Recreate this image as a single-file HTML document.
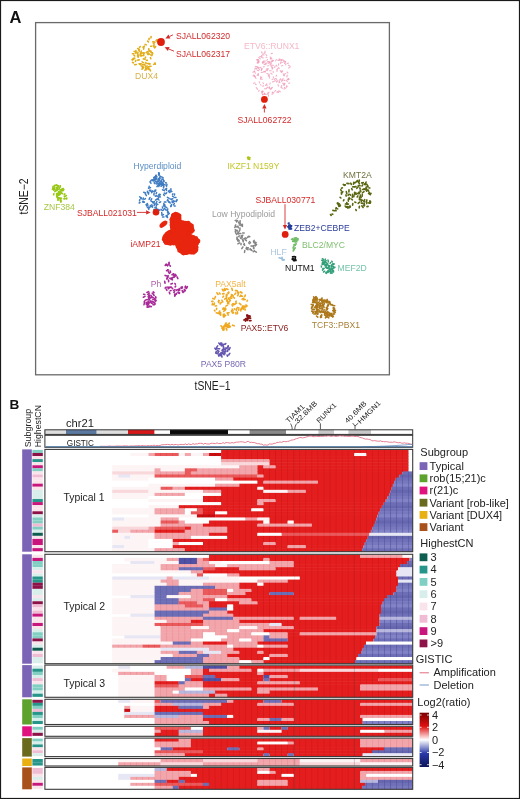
<!DOCTYPE html>
<html><head><meta charset="utf-8"><style>
html,body{margin:0;padding:0;background:#fff;}
body{width:520px;height:799px;overflow:hidden;position:relative;}
svg{position:absolute;left:0;top:0;filter:blur(0.3px);}
svg text{font-family:"Liberation Sans", sans-serif;}
</style></head><body>
<svg width="520" height="799" viewBox="0 0 520 799">
<rect x="0" y="0" width="520" height="799" fill="#fff"/>
<text x="9.5" y="23" font-size="16.5" fill="#111" text-anchor="start" font-weight="bold" >A</text>
<rect x="35.6" y="22.6" width="353.8" height="352.2" fill="none" stroke="#6a6a6a" stroke-width="1.3"/>
<text x="212.5" y="389.6" font-size="12" fill="#222" text-anchor="middle" font-weight="normal" textLength="36" lengthAdjust="spacingAndGlyphs">tSNE−1</text>
<text x="0" y="0" font-size="12" fill="#222" text-anchor="middle" transform="translate(28.2,196.5) rotate(-90)" textLength="36" lengthAdjust="spacingAndGlyphs">tSNE−2</text>
<g stroke="#e2ae1c" stroke-width="1.60" stroke-linecap="round" stroke-opacity="1.0"><line x1="149.1" y1="38.3" x2="149.0" y2="39.6"/><line x1="132.4" y1="53.7" x2="133.8" y2="53.8"/><line x1="142.4" y1="64.4" x2="143.5" y2="64.8"/><line x1="148.6" y1="68.1" x2="148.3" y2="69.4"/><line x1="154.2" y1="46.1" x2="155.1" y2="46.6"/><line x1="139.1" y1="63.8" x2="140.5" y2="64.7"/><line x1="148.8" y1="48.7" x2="148.7" y2="49.6"/><line x1="149.4" y1="50.4" x2="150.3" y2="51.7"/><line x1="144.4" y1="46.2" x2="143.0" y2="47.2"/><line x1="138.2" y1="55.0" x2="138.0" y2="57.0"/><line x1="151.7" y1="46.3" x2="150.7" y2="46.3"/><line x1="142.1" y1="61.9" x2="143.4" y2="62.6"/><line x1="133.2" y1="58.7" x2="132.0" y2="59.8"/><line x1="155.6" y1="46.5" x2="154.7" y2="47.8"/><line x1="148.1" y1="51.5" x2="146.2" y2="52.5"/><line x1="143.4" y1="58.9" x2="145.2" y2="59.2"/><line x1="153.4" y1="45.4" x2="154.0" y2="47.0"/><line x1="132.6" y1="62.4" x2="133.6" y2="62.8"/><line x1="141.4" y1="65.9" x2="142.7" y2="66.3"/><line x1="147.2" y1="66.0" x2="145.5" y2="67.1"/><line x1="138.6" y1="49.7" x2="139.5" y2="51.5"/><line x1="156.9" y1="41.3" x2="157.8" y2="41.9"/><line x1="138.0" y1="52.4" x2="137.6" y2="53.5"/><line x1="142.3" y1="55.6" x2="140.6" y2="55.9"/><line x1="145.6" y1="57.1" x2="145.2" y2="57.9"/><line x1="154.9" y1="63.0" x2="155.3" y2="64.3"/><line x1="133.9" y1="58.0" x2="134.7" y2="58.2"/><line x1="147.6" y1="41.1" x2="148.5" y2="42.0"/><line x1="143.6" y1="52.8" x2="144.5" y2="53.1"/><line x1="152.8" y1="41.9" x2="154.9" y2="42.1"/><line x1="146.6" y1="69.4" x2="145.0" y2="70.1"/><line x1="137.7" y1="48.5" x2="139.4" y2="49.4"/><line x1="145.6" y1="62.5" x2="146.2" y2="63.5"/><line x1="155.3" y1="63.4" x2="153.7" y2="64.4"/><line x1="137.4" y1="53.7" x2="137.8" y2="54.5"/><line x1="139.2" y1="59.9" x2="137.8" y2="60.1"/><line x1="149.0" y1="66.8" x2="147.7" y2="67.5"/><line x1="148.3" y1="63.5" x2="150.0" y2="63.9"/><line x1="150.9" y1="52.2" x2="152.6" y2="53.3"/><line x1="141.2" y1="63.7" x2="139.8" y2="63.8"/><line x1="142.7" y1="68.3" x2="142.0" y2="69.1"/><line x1="136.3" y1="64.5" x2="134.6" y2="64.7"/><line x1="140.6" y1="55.0" x2="141.3" y2="55.3"/><line x1="145.5" y1="67.3" x2="145.9" y2="69.2"/><line x1="153.4" y1="43.2" x2="154.2" y2="44.1"/><line x1="137.5" y1="55.9" x2="138.5" y2="56.9"/><line x1="141.3" y1="51.1" x2="140.8" y2="53.1"/><line x1="142.9" y1="66.9" x2="142.9" y2="68.5"/><line x1="136.7" y1="52.0" x2="135.6" y2="53.2"/><line x1="140.5" y1="53.2" x2="140.1" y2="55.1"/><line x1="133.9" y1="55.1" x2="134.8" y2="56.0"/><line x1="152.5" y1="52.8" x2="152.2" y2="54.7"/><line x1="148.1" y1="52.8" x2="148.0" y2="54.6"/><line x1="143.6" y1="53.6" x2="143.8" y2="55.7"/><line x1="151.0" y1="66.2" x2="149.8" y2="66.4"/><line x1="147.0" y1="68.3" x2="146.2" y2="68.8"/><line x1="134.2" y1="51.4" x2="135.3" y2="51.7"/><line x1="134.3" y1="58.6" x2="132.7" y2="59.9"/><line x1="135.9" y1="60.4" x2="135.4" y2="61.3"/><line x1="143.2" y1="53.0" x2="141.3" y2="53.1"/><line x1="135.9" y1="50.5" x2="135.8" y2="51.8"/><line x1="151.1" y1="36.5" x2="150.9" y2="37.9"/><line x1="147.3" y1="53.7" x2="149.4" y2="54.1"/><line x1="143.4" y1="67.2" x2="142.4" y2="67.8"/><line x1="146.5" y1="60.2" x2="147.3" y2="60.4"/><line x1="149.1" y1="50.7" x2="151.1" y2="51.2"/><line x1="147.7" y1="63.5" x2="149.6" y2="64.0"/><line x1="143.9" y1="47.0" x2="143.6" y2="49.1"/><line x1="145.2" y1="44.4" x2="146.2" y2="44.8"/><line x1="140.4" y1="46.5" x2="139.5" y2="47.3"/><line x1="150.7" y1="54.8" x2="151.9" y2="55.6"/><line x1="157.3" y1="39.7" x2="156.1" y2="40.5"/><line x1="144.6" y1="64.2" x2="145.1" y2="65.6"/><line x1="149.6" y1="69.0" x2="150.5" y2="70.8"/><line x1="150.4" y1="57.5" x2="150.8" y2="58.7"/></g>
<g stroke="#f09cb6" stroke-width="1.10" stroke-linecap="round" stroke-opacity="0.8"><line x1="255.4" y1="84.0" x2="256.1" y2="84.7"/><line x1="286.6" y1="80.7" x2="287.3" y2="81.6"/><line x1="263.8" y1="71.3" x2="265.1" y2="72.0"/><line x1="264.0" y1="94.2" x2="262.5" y2="94.3"/><line x1="262.2" y1="93.9" x2="262.9" y2="95.0"/><line x1="270.9" y1="73.2" x2="272.1" y2="74.1"/><line x1="256.1" y1="68.9" x2="256.9" y2="69.0"/><line x1="265.1" y1="60.7" x2="264.7" y2="62.2"/><line x1="282.9" y1="79.8" x2="281.6" y2="81.4"/><line x1="268.7" y1="65.7" x2="267.7" y2="65.7"/><line x1="280.3" y1="79.8" x2="282.2" y2="80.1"/><line x1="288.4" y1="78.5" x2="287.1" y2="79.9"/><line x1="258.4" y1="73.6" x2="258.4" y2="75.6"/><line x1="284.6" y1="87.2" x2="284.1" y2="89.2"/><line x1="279.3" y1="81.9" x2="279.9" y2="82.5"/><line x1="257.3" y1="66.9" x2="259.1" y2="67.6"/><line x1="275.1" y1="78.4" x2="274.4" y2="80.1"/><line x1="284.1" y1="83.9" x2="284.1" y2="85.4"/><line x1="281.2" y1="62.2" x2="282.3" y2="62.5"/><line x1="282.2" y1="59.4" x2="280.7" y2="61.0"/><line x1="272.2" y1="67.3" x2="272.3" y2="69.1"/><line x1="283.1" y1="78.4" x2="282.7" y2="79.2"/><line x1="259.2" y1="62.0" x2="258.3" y2="62.9"/><line x1="279.5" y1="81.6" x2="278.9" y2="82.7"/><line x1="273.1" y1="71.4" x2="273.2" y2="72.4"/><line x1="254.6" y1="71.1" x2="252.8" y2="72.2"/><line x1="269.7" y1="62.4" x2="271.4" y2="63.7"/><line x1="260.5" y1="76.8" x2="261.9" y2="77.5"/><line x1="285.8" y1="73.6" x2="284.2" y2="74.2"/><line x1="262.0" y1="91.0" x2="262.0" y2="91.8"/><line x1="270.0" y1="64.3" x2="271.2" y2="64.9"/><line x1="264.4" y1="88.8" x2="266.3" y2="88.8"/><line x1="289.7" y1="82.9" x2="288.6" y2="83.3"/><line x1="268.3" y1="68.7" x2="266.7" y2="68.7"/><line x1="266.8" y1="69.9" x2="267.3" y2="70.6"/><line x1="256.3" y1="87.7" x2="257.6" y2="89.4"/><line x1="262.7" y1="62.4" x2="262.7" y2="63.5"/><line x1="268.5" y1="93.7" x2="266.7" y2="94.4"/><line x1="278.4" y1="92.0" x2="276.8" y2="92.2"/><line x1="282.2" y1="70.7" x2="281.0" y2="71.9"/><line x1="264.6" y1="53.1" x2="263.7" y2="53.3"/><line x1="270.9" y1="65.7" x2="272.0" y2="67.2"/><line x1="278.7" y1="63.9" x2="278.5" y2="65.2"/><line x1="258.7" y1="57.6" x2="260.3" y2="58.9"/><line x1="273.4" y1="60.6" x2="271.3" y2="61.2"/><line x1="270.2" y1="57.0" x2="270.9" y2="57.5"/><line x1="265.9" y1="54.7" x2="266.8" y2="55.5"/><line x1="275.7" y1="90.4" x2="274.7" y2="91.4"/><line x1="268.9" y1="74.0" x2="269.4" y2="75.2"/><line x1="273.1" y1="79.1" x2="272.1" y2="79.6"/><line x1="263.3" y1="61.5" x2="263.8" y2="62.9"/><line x1="254.9" y1="82.7" x2="253.6" y2="83.2"/><line x1="269.1" y1="92.2" x2="267.4" y2="93.2"/><line x1="274.3" y1="81.5" x2="272.5" y2="81.9"/><line x1="278.1" y1="84.6" x2="278.4" y2="86.2"/><line x1="262.3" y1="91.8" x2="261.8" y2="92.9"/><line x1="258.4" y1="61.5" x2="257.6" y2="63.1"/><line x1="273.3" y1="76.7" x2="273.6" y2="77.8"/><line x1="265.6" y1="71.6" x2="263.9" y2="71.8"/><line x1="287.0" y1="72.0" x2="287.9" y2="72.8"/><line x1="265.0" y1="51.1" x2="265.0" y2="52.9"/><line x1="269.9" y1="61.7" x2="268.9" y2="63.5"/><line x1="261.5" y1="51.9" x2="262.2" y2="53.1"/><line x1="280.4" y1="59.4" x2="278.9" y2="60.5"/><line x1="273.3" y1="60.2" x2="272.1" y2="60.3"/><line x1="284.3" y1="60.8" x2="285.7" y2="62.0"/><line x1="264.5" y1="93.3" x2="264.5" y2="94.4"/><line x1="262.2" y1="68.8" x2="261.2" y2="70.7"/><line x1="257.9" y1="68.0" x2="259.6" y2="69.4"/><line x1="256.3" y1="68.4" x2="254.4" y2="69.0"/><line x1="288.5" y1="65.2" x2="290.2" y2="66.4"/><line x1="278.7" y1="67.5" x2="279.2" y2="68.6"/><line x1="264.4" y1="66.7" x2="263.4" y2="66.9"/><line x1="267.5" y1="87.6" x2="266.3" y2="88.3"/><line x1="254.5" y1="71.3" x2="255.3" y2="73.3"/><line x1="260.9" y1="67.3" x2="260.1" y2="67.5"/><line x1="269.3" y1="87.2" x2="268.7" y2="87.8"/><line x1="267.0" y1="63.1" x2="265.4" y2="63.4"/><line x1="262.9" y1="82.8" x2="263.5" y2="83.7"/><line x1="289.2" y1="79.5" x2="288.3" y2="79.6"/><line x1="263.2" y1="72.2" x2="261.1" y2="72.5"/><line x1="267.9" y1="61.6" x2="268.2" y2="63.0"/><line x1="285.1" y1="83.7" x2="283.5" y2="84.7"/><line x1="276.3" y1="65.2" x2="277.0" y2="66.3"/><line x1="260.4" y1="84.6" x2="261.0" y2="85.2"/><line x1="253.8" y1="74.9" x2="254.9" y2="76.8"/><line x1="262.6" y1="54.6" x2="264.0" y2="55.0"/><line x1="280.2" y1="70.6" x2="281.2" y2="71.6"/><line x1="277.9" y1="80.6" x2="276.5" y2="82.0"/><line x1="285.9" y1="63.6" x2="285.7" y2="64.9"/><line x1="281.4" y1="59.6" x2="282.2" y2="60.4"/><line x1="259.1" y1="90.2" x2="258.8" y2="91.4"/><line x1="268.5" y1="95.1" x2="268.4" y2="96.2"/><line x1="285.0" y1="80.4" x2="284.1" y2="80.4"/><line x1="272.4" y1="87.4" x2="270.6" y2="88.4"/><line x1="258.5" y1="59.5" x2="256.8" y2="59.6"/><line x1="289.9" y1="67.5" x2="288.6" y2="68.0"/><line x1="263.6" y1="85.9" x2="262.7" y2="86.1"/><line x1="275.7" y1="78.5" x2="276.8" y2="79.3"/><line x1="257.9" y1="59.6" x2="259.1" y2="60.8"/><line x1="277.8" y1="60.1" x2="279.0" y2="60.2"/><line x1="279.2" y1="58.9" x2="279.8" y2="59.8"/><line x1="283.6" y1="75.6" x2="284.5" y2="75.8"/><line x1="268.6" y1="75.3" x2="268.2" y2="76.2"/><line x1="259.2" y1="81.7" x2="259.6" y2="82.9"/><line x1="264.6" y1="93.2" x2="265.4" y2="94.6"/><line x1="267.9" y1="69.3" x2="265.9" y2="70.2"/><line x1="267.5" y1="59.5" x2="266.8" y2="60.3"/><line x1="269.2" y1="86.9" x2="269.8" y2="88.9"/><line x1="270.2" y1="58.3" x2="271.8" y2="58.4"/><line x1="277.2" y1="91.7" x2="278.8" y2="92.2"/><line x1="266.9" y1="73.4" x2="268.0" y2="74.0"/><line x1="272.6" y1="92.4" x2="274.0" y2="92.9"/><line x1="261.8" y1="56.5" x2="259.6" y2="56.9"/><line x1="272.5" y1="53.2" x2="271.2" y2="53.6"/><line x1="288.7" y1="78.6" x2="287.8" y2="79.2"/><line x1="283.4" y1="60.0" x2="283.9" y2="61.9"/><line x1="261.5" y1="68.3" x2="261.5" y2="69.7"/><line x1="258.5" y1="61.3" x2="257.1" y2="62.9"/><line x1="254.9" y1="76.0" x2="254.3" y2="76.6"/><line x1="276.6" y1="75.2" x2="276.1" y2="76.3"/><line x1="269.2" y1="76.4" x2="269.6" y2="78.1"/><line x1="269.6" y1="70.7" x2="271.3" y2="70.8"/><line x1="272.8" y1="60.9" x2="271.4" y2="62.2"/><line x1="270.8" y1="58.6" x2="270.9" y2="59.6"/><line x1="257.3" y1="70.2" x2="258.7" y2="70.6"/><line x1="281.6" y1="85.6" x2="281.6" y2="86.4"/><line x1="273.1" y1="67.9" x2="272.2" y2="68.1"/><line x1="280.7" y1="87.1" x2="282.4" y2="88.3"/><line x1="272.7" y1="93.9" x2="271.7" y2="94.2"/><line x1="255.9" y1="66.4" x2="255.2" y2="67.1"/><line x1="288.4" y1="63.1" x2="287.5" y2="63.6"/><line x1="272.1" y1="92.0" x2="273.0" y2="92.8"/><line x1="272.2" y1="65.3" x2="273.3" y2="65.4"/><line x1="278.7" y1="90.8" x2="280.3" y2="91.8"/><line x1="257.8" y1="74.3" x2="257.2" y2="75.5"/><line x1="287.3" y1="75.0" x2="286.8" y2="77.0"/><line x1="278.0" y1="68.4" x2="277.1" y2="69.1"/><line x1="267.0" y1="84.9" x2="267.1" y2="85.9"/><line x1="285.4" y1="61.4" x2="284.5" y2="63.4"/><line x1="275.6" y1="80.5" x2="276.1" y2="81.2"/><line x1="277.1" y1="69.4" x2="277.0" y2="71.5"/><line x1="258.3" y1="60.9" x2="258.0" y2="61.6"/><line x1="256.5" y1="66.5" x2="257.8" y2="67.6"/><line x1="276.3" y1="59.5" x2="275.7" y2="60.9"/><line x1="261.7" y1="57.5" x2="263.3" y2="58.0"/><line x1="286.8" y1="85.6" x2="287.2" y2="86.8"/><line x1="275.2" y1="66.1" x2="274.6" y2="67.4"/><line x1="261.9" y1="91.6" x2="263.5" y2="91.8"/><line x1="267.9" y1="61.5" x2="269.8" y2="61.9"/><line x1="254.0" y1="75.7" x2="253.0" y2="75.9"/><line x1="260.8" y1="77.5" x2="260.8" y2="79.2"/><line x1="264.1" y1="64.4" x2="266.1" y2="64.7"/><line x1="282.5" y1="83.2" x2="284.5" y2="83.2"/><line x1="282.6" y1="71.4" x2="281.6" y2="72.5"/><line x1="261.5" y1="55.5" x2="262.1" y2="56.0"/><line x1="266.7" y1="83.9" x2="265.5" y2="85.5"/><line x1="280.9" y1="62.3" x2="280.6" y2="63.7"/><line x1="283.2" y1="73.9" x2="284.3" y2="75.2"/><line x1="263.9" y1="60.9" x2="262.4" y2="62.4"/><line x1="282.7" y1="65.5" x2="281.5" y2="65.9"/><line x1="262.7" y1="91.0" x2="262.0" y2="92.7"/><line x1="271.9" y1="88.0" x2="270.7" y2="89.6"/><line x1="270.2" y1="83.0" x2="269.9" y2="84.2"/><line x1="260.3" y1="78.8" x2="262.3" y2="79.3"/><line x1="266.0" y1="57.3" x2="266.9" y2="57.4"/><line x1="280.5" y1="78.8" x2="279.5" y2="80.3"/><line x1="255.2" y1="76.7" x2="256.0" y2="78.5"/><line x1="256.8" y1="60.1" x2="257.6" y2="60.4"/><line x1="286.5" y1="86.6" x2="285.7" y2="88.4"/></g>
<g stroke="#3f7cc2" stroke-width="1.50" stroke-linecap="round" stroke-opacity="1.0"><line x1="164.4" y1="184.6" x2="165.3" y2="184.9"/><line x1="151.5" y1="191.4" x2="152.7" y2="191.5"/><line x1="150.3" y1="205.4" x2="150.8" y2="206.5"/><line x1="173.2" y1="201.0" x2="174.6" y2="201.2"/><line x1="156.5" y1="208.0" x2="157.3" y2="209.6"/><line x1="161.5" y1="181.0" x2="160.6" y2="181.4"/><line x1="158.5" y1="209.5" x2="159.8" y2="210.3"/><line x1="151.1" y1="180.5" x2="150.2" y2="181.7"/><line x1="142.6" y1="201.8" x2="144.4" y2="202.2"/><line x1="167.8" y1="208.9" x2="167.3" y2="210.1"/><line x1="155.9" y1="189.9" x2="155.0" y2="190.2"/><line x1="148.7" y1="192.4" x2="148.5" y2="194.2"/><line x1="169.6" y1="201.9" x2="170.2" y2="203.1"/><line x1="165.5" y1="206.9" x2="166.8" y2="207.6"/><line x1="170.0" y1="198.9" x2="171.4" y2="199.4"/><line x1="167.4" y1="212.0" x2="168.3" y2="212.5"/><line x1="149.2" y1="186.2" x2="149.1" y2="187.2"/><line x1="153.4" y1="179.8" x2="151.5" y2="179.9"/><line x1="168.4" y1="191.5" x2="169.8" y2="192.5"/><line x1="155.8" y1="209.0" x2="154.9" y2="210.3"/><line x1="164.2" y1="193.1" x2="165.7" y2="193.8"/><line x1="156.3" y1="207.0" x2="154.9" y2="207.4"/><line x1="162.4" y1="207.0" x2="162.7" y2="208.1"/><line x1="169.3" y1="213.5" x2="167.9" y2="214.6"/><line x1="174.3" y1="203.5" x2="173.6" y2="204.8"/><line x1="151.2" y1="201.4" x2="152.5" y2="201.8"/><line x1="171.3" y1="205.3" x2="170.8" y2="206.3"/><line x1="156.6" y1="192.4" x2="156.1" y2="193.7"/><line x1="166.0" y1="216.1" x2="167.4" y2="217.0"/><line x1="170.9" y1="188.7" x2="170.9" y2="190.8"/><line x1="139.7" y1="196.9" x2="141.4" y2="197.9"/><line x1="143.3" y1="198.0" x2="143.0" y2="199.8"/><line x1="160.7" y1="201.8" x2="159.3" y2="202.5"/><line x1="147.3" y1="203.5" x2="147.9" y2="205.3"/><line x1="149.6" y1="190.3" x2="150.9" y2="190.3"/><line x1="156.0" y1="204.5" x2="156.5" y2="205.6"/><line x1="149.0" y1="207.1" x2="147.4" y2="207.3"/><line x1="154.2" y1="180.6" x2="155.9" y2="181.4"/><line x1="172.1" y1="201.1" x2="172.3" y2="202.7"/><line x1="154.3" y1="201.6" x2="152.7" y2="202.6"/><line x1="158.3" y1="184.6" x2="158.1" y2="185.6"/><line x1="154.3" y1="182.5" x2="154.5" y2="183.6"/><line x1="150.1" y1="182.0" x2="151.0" y2="183.2"/><line x1="156.9" y1="201.5" x2="156.3" y2="202.6"/><line x1="165.4" y1="182.7" x2="166.4" y2="183.0"/><line x1="148.3" y1="208.5" x2="148.8" y2="209.4"/><line x1="164.5" y1="208.3" x2="163.4" y2="210.1"/><line x1="147.2" y1="203.9" x2="147.0" y2="205.7"/><line x1="161.4" y1="183.3" x2="162.1" y2="183.9"/><line x1="159.2" y1="172.9" x2="159.3" y2="173.9"/><line x1="159.3" y1="194.2" x2="159.0" y2="196.2"/><line x1="158.7" y1="197.5" x2="157.7" y2="199.2"/><line x1="154.8" y1="191.2" x2="153.9" y2="191.3"/><line x1="164.3" y1="201.9" x2="165.9" y2="202.1"/><line x1="166.4" y1="215.7" x2="167.5" y2="217.5"/><line x1="160.3" y1="194.4" x2="159.5" y2="194.6"/><line x1="168.0" y1="200.6" x2="168.9" y2="202.3"/><line x1="154.1" y1="193.1" x2="153.9" y2="194.9"/><line x1="147.4" y1="191.3" x2="147.8" y2="192.8"/><line x1="159.7" y1="182.9" x2="159.6" y2="185.0"/><line x1="165.5" y1="209.2" x2="166.2" y2="210.2"/><line x1="151.7" y1="198.7" x2="150.9" y2="200.4"/><line x1="174.7" y1="197.4" x2="175.9" y2="197.6"/><line x1="177.2" y1="199.8" x2="176.3" y2="201.5"/><line x1="176.6" y1="200.0" x2="176.0" y2="201.6"/><line x1="167.8" y1="199.6" x2="167.3" y2="200.5"/><line x1="166.7" y1="192.8" x2="166.0" y2="193.5"/><line x1="166.7" y1="188.3" x2="165.1" y2="189.3"/><line x1="161.6" y1="182.7" x2="162.5" y2="183.8"/><line x1="152.5" y1="190.9" x2="151.6" y2="192.8"/><line x1="140.8" y1="198.5" x2="141.7" y2="198.7"/><line x1="172.9" y1="198.8" x2="171.5" y2="199.2"/><line x1="164.0" y1="216.9" x2="162.5" y2="217.0"/><line x1="156.1" y1="175.1" x2="155.7" y2="176.0"/><line x1="168.6" y1="212.5" x2="168.0" y2="213.2"/><line x1="164.6" y1="204.6" x2="164.9" y2="206.7"/><line x1="140.0" y1="202.5" x2="139.2" y2="203.0"/><line x1="150.9" y1="206.1" x2="152.6" y2="207.1"/><line x1="158.6" y1="172.7" x2="159.3" y2="174.2"/><line x1="156.1" y1="203.6" x2="157.8" y2="204.4"/><line x1="154.2" y1="201.8" x2="153.6" y2="203.1"/><line x1="155.8" y1="209.3" x2="153.9" y2="209.6"/><line x1="161.2" y1="184.8" x2="163.3" y2="185.2"/><line x1="167.4" y1="210.7" x2="168.2" y2="212.2"/><line x1="163.4" y1="184.8" x2="163.9" y2="186.8"/><line x1="154.8" y1="203.4" x2="154.1" y2="205.4"/><line x1="157.2" y1="199.0" x2="155.5" y2="200.1"/><line x1="163.3" y1="183.6" x2="161.6" y2="184.5"/><line x1="166.9" y1="215.3" x2="167.3" y2="216.1"/><line x1="161.0" y1="209.4" x2="162.4" y2="210.5"/><line x1="163.8" y1="203.5" x2="163.9" y2="204.6"/><line x1="150.0" y1="207.2" x2="148.9" y2="208.1"/><line x1="163.5" y1="214.6" x2="162.0" y2="215.2"/><line x1="158.1" y1="199.4" x2="159.0" y2="200.0"/><line x1="146.1" y1="204.5" x2="146.7" y2="205.9"/><line x1="155.1" y1="195.9" x2="155.9" y2="196.3"/><line x1="143.8" y1="201.5" x2="143.0" y2="202.1"/><line x1="163.5" y1="187.2" x2="163.5" y2="188.0"/><line x1="174.6" y1="194.0" x2="174.4" y2="195.1"/><line x1="171.9" y1="191.4" x2="170.0" y2="191.7"/><line x1="161.7" y1="212.5" x2="162.0" y2="214.7"/><line x1="162.5" y1="189.8" x2="164.5" y2="190.6"/><line x1="150.0" y1="197.5" x2="149.1" y2="199.4"/><line x1="166.4" y1="189.5" x2="166.5" y2="190.5"/><line x1="150.5" y1="187.6" x2="148.5" y2="188.2"/><line x1="171.7" y1="204.6" x2="170.8" y2="206.6"/><line x1="167.0" y1="184.4" x2="166.5" y2="186.2"/><line x1="158.4" y1="178.5" x2="159.1" y2="179.2"/><line x1="143.7" y1="192.3" x2="145.7" y2="193.0"/><line x1="173.4" y1="201.0" x2="173.6" y2="202.2"/><line x1="172.9" y1="193.7" x2="172.5" y2="194.6"/><line x1="167.4" y1="197.4" x2="169.2" y2="198.3"/><line x1="149.4" y1="190.6" x2="150.4" y2="191.2"/><line x1="145.3" y1="193.9" x2="146.4" y2="195.7"/><line x1="158.2" y1="184.3" x2="158.9" y2="185.1"/><line x1="172.5" y1="196.2" x2="173.7" y2="197.0"/><line x1="161.6" y1="176.8" x2="163.2" y2="177.8"/><line x1="163.6" y1="194.6" x2="164.3" y2="195.4"/><line x1="164.8" y1="205.1" x2="163.4" y2="206.0"/><line x1="169.3" y1="190.4" x2="168.8" y2="191.0"/><line x1="153.7" y1="177.8" x2="154.4" y2="179.3"/><line x1="156.4" y1="195.7" x2="158.1" y2="196.4"/><line x1="151.8" y1="204.8" x2="152.5" y2="206.6"/><line x1="160.1" y1="196.3" x2="160.0" y2="197.2"/><line x1="139.9" y1="199.4" x2="139.5" y2="200.9"/><line x1="174.2" y1="205.9" x2="175.1" y2="206.1"/><line x1="158.9" y1="194.9" x2="159.5" y2="195.7"/><line x1="155.9" y1="176.3" x2="155.3" y2="178.2"/><line x1="145.4" y1="198.5" x2="144.7" y2="199.2"/><line x1="155.6" y1="190.9" x2="154.3" y2="191.7"/></g>
<g stroke="#3f7cc2" stroke-width="1.50" stroke-linecap="round" stroke-opacity="1.0"><line x1="157.8" y1="185.8" x2="156.9" y2="186.6"/><line x1="155.4" y1="176.6" x2="155.9" y2="178.8"/><line x1="162.7" y1="185.2" x2="161.0" y2="186.3"/><line x1="154.6" y1="180.1" x2="152.5" y2="180.4"/><line x1="156.0" y1="178.3" x2="155.5" y2="179.5"/><line x1="158.7" y1="173.2" x2="159.0" y2="174.7"/><line x1="164.1" y1="181.3" x2="162.5" y2="182.4"/><line x1="160.4" y1="176.2" x2="159.7" y2="177.2"/><line x1="159.2" y1="185.4" x2="158.8" y2="186.5"/><line x1="159.3" y1="179.0" x2="158.1" y2="179.2"/><line x1="155.6" y1="181.8" x2="157.1" y2="182.4"/><line x1="163.0" y1="179.7" x2="164.0" y2="180.7"/><line x1="158.4" y1="174.9" x2="159.3" y2="175.3"/><line x1="155.9" y1="178.2" x2="156.6" y2="179.1"/><line x1="154.7" y1="180.2" x2="153.2" y2="181.0"/><line x1="158.5" y1="181.6" x2="160.0" y2="182.6"/><line x1="158.3" y1="180.0" x2="157.8" y2="181.4"/><line x1="155.8" y1="175.9" x2="157.0" y2="176.9"/><line x1="156.6" y1="181.2" x2="157.9" y2="181.2"/><line x1="158.4" y1="179.0" x2="159.8" y2="180.7"/><line x1="155.9" y1="183.6" x2="156.6" y2="184.0"/><line x1="161.9" y1="179.0" x2="163.2" y2="179.3"/><line x1="157.3" y1="183.1" x2="158.4" y2="183.5"/><line x1="154.3" y1="176.9" x2="155.1" y2="178.5"/><line x1="160.4" y1="184.5" x2="159.1" y2="185.3"/><line x1="161.7" y1="182.9" x2="160.6" y2="183.9"/><line x1="162.1" y1="182.8" x2="161.2" y2="183.0"/><line x1="161.4" y1="180.1" x2="161.4" y2="182.3"/><line x1="160.1" y1="178.2" x2="158.5" y2="179.5"/><line x1="159.6" y1="177.6" x2="159.8" y2="179.0"/></g>
<g stroke="#98c818" stroke-width="1.70" stroke-linecap="round" stroke-opacity="1.0"><line x1="62.4" y1="188.7" x2="63.0" y2="190.2"/><line x1="58.2" y1="189.4" x2="56.7" y2="190.6"/><line x1="58.7" y1="191.7" x2="59.8" y2="192.4"/><line x1="53.9" y1="193.8" x2="53.6" y2="194.7"/><line x1="65.1" y1="198.7" x2="64.0" y2="198.8"/><line x1="57.7" y1="200.0" x2="58.5" y2="200.0"/><line x1="61.2" y1="192.7" x2="59.3" y2="193.2"/><line x1="59.9" y1="192.7" x2="59.2" y2="193.9"/><line x1="56.6" y1="193.7" x2="57.5" y2="195.6"/><line x1="61.4" y1="193.2" x2="62.6" y2="193.6"/><line x1="57.9" y1="193.1" x2="57.5" y2="195.0"/><line x1="59.0" y1="195.1" x2="57.7" y2="195.1"/><line x1="59.2" y1="198.1" x2="60.3" y2="198.7"/><line x1="66.7" y1="198.1" x2="66.6" y2="199.0"/><line x1="66.3" y1="195.6" x2="64.4" y2="196.8"/><line x1="54.0" y1="188.7" x2="53.9" y2="190.2"/><line x1="54.7" y1="186.8" x2="54.1" y2="188.4"/><line x1="57.4" y1="197.2" x2="58.4" y2="198.6"/><line x1="64.8" y1="194.0" x2="64.3" y2="194.9"/><line x1="58.6" y1="193.3" x2="59.8" y2="194.5"/><line x1="59.9" y1="191.3" x2="60.9" y2="191.7"/><line x1="53.1" y1="186.4" x2="53.0" y2="188.4"/><line x1="60.6" y1="198.1" x2="61.4" y2="198.3"/><line x1="63.8" y1="189.5" x2="63.0" y2="190.5"/><line x1="53.1" y1="188.7" x2="55.1" y2="189.3"/><line x1="60.4" y1="189.8" x2="60.6" y2="191.1"/><line x1="60.4" y1="200.0" x2="60.7" y2="201.6"/><line x1="56.3" y1="185.0" x2="54.4" y2="185.5"/><line x1="60.8" y1="199.8" x2="60.9" y2="201.9"/><line x1="55.6" y1="190.7" x2="54.9" y2="191.6"/><line x1="58.6" y1="197.6" x2="59.4" y2="198.3"/><line x1="57.7" y1="187.6" x2="56.5" y2="187.7"/><line x1="60.3" y1="185.8" x2="60.1" y2="187.1"/><line x1="56.8" y1="185.2" x2="58.7" y2="186.0"/><line x1="56.5" y1="188.3" x2="57.4" y2="189.0"/><line x1="61.0" y1="189.9" x2="62.6" y2="190.7"/><line x1="53.4" y1="188.8" x2="52.5" y2="189.3"/><line x1="58.8" y1="198.4" x2="58.0" y2="199.0"/><line x1="56.6" y1="195.8" x2="57.4" y2="197.8"/><line x1="59.3" y1="187.9" x2="59.4" y2="188.8"/><line x1="63.2" y1="188.7" x2="61.7" y2="189.2"/><line x1="57.4" y1="188.2" x2="57.0" y2="189.2"/><line x1="58.8" y1="193.0" x2="60.1" y2="194.4"/><line x1="57.6" y1="195.1" x2="57.3" y2="196.3"/><line x1="56.7" y1="185.4" x2="58.4" y2="186.5"/></g>
<g stroke="#b0c418" stroke-width="1.60" stroke-linecap="round" stroke-opacity="1.0"><line x1="248.2" y1="158.9" x2="249.7" y2="159.4"/><line x1="248.8" y1="158.1" x2="249.4" y2="158.9"/><line x1="248.1" y1="157.1" x2="249.8" y2="157.8"/><line x1="249.8" y1="157.8" x2="247.9" y2="158.4"/><line x1="247.5" y1="157.5" x2="249.3" y2="157.7"/></g>
<g stroke="#858585" stroke-width="1.50" stroke-linecap="round" stroke-opacity="1.0"><line x1="244.3" y1="243.6" x2="243.7" y2="244.5"/><line x1="251.0" y1="246.0" x2="251.8" y2="246.1"/><line x1="237.8" y1="226.7" x2="238.6" y2="227.8"/><line x1="235.6" y1="230.9" x2="235.2" y2="231.8"/><line x1="254.2" y1="240.4" x2="253.4" y2="241.3"/><line x1="244.3" y1="244.6" x2="244.7" y2="245.3"/><line x1="253.4" y1="248.0" x2="254.0" y2="248.7"/><line x1="253.6" y1="242.1" x2="254.7" y2="242.3"/><line x1="251.4" y1="249.9" x2="252.0" y2="250.6"/><line x1="256.6" y1="244.5" x2="255.2" y2="246.0"/><line x1="248.1" y1="236.4" x2="249.8" y2="236.7"/><line x1="244.8" y1="238.6" x2="243.9" y2="238.8"/><line x1="250.1" y1="248.8" x2="251.2" y2="250.0"/><line x1="235.7" y1="232.5" x2="236.0" y2="233.6"/><line x1="242.2" y1="224.3" x2="241.1" y2="225.7"/><line x1="240.0" y1="228.1" x2="239.9" y2="229.5"/><line x1="237.3" y1="239.7" x2="238.2" y2="241.4"/><line x1="246.4" y1="247.3" x2="247.9" y2="248.2"/><line x1="249.0" y1="236.2" x2="247.5" y2="237.5"/><line x1="236.9" y1="230.1" x2="237.4" y2="231.1"/><line x1="235.2" y1="229.7" x2="236.6" y2="230.8"/><line x1="241.7" y1="236.6" x2="242.2" y2="237.6"/><line x1="237.1" y1="220.4" x2="235.2" y2="220.4"/><line x1="236.9" y1="237.3" x2="237.1" y2="238.4"/><line x1="256.1" y1="242.6" x2="255.2" y2="244.5"/><line x1="239.2" y1="225.0" x2="241.1" y2="225.1"/><line x1="239.7" y1="242.8" x2="237.8" y2="243.8"/><line x1="253.3" y1="246.6" x2="253.9" y2="247.5"/><line x1="242.6" y1="239.2" x2="243.4" y2="241.0"/><line x1="240.2" y1="220.7" x2="239.8" y2="222.3"/><line x1="254.4" y1="245.4" x2="252.3" y2="246.1"/><line x1="245.3" y1="237.9" x2="246.4" y2="238.5"/><line x1="236.5" y1="220.9" x2="236.7" y2="222.0"/><line x1="254.4" y1="250.8" x2="253.3" y2="251.7"/><line x1="241.0" y1="243.5" x2="241.0" y2="244.8"/><line x1="242.8" y1="235.2" x2="241.8" y2="236.9"/><line x1="241.4" y1="235.5" x2="241.2" y2="236.8"/><line x1="238.6" y1="222.5" x2="239.4" y2="223.7"/><line x1="249.6" y1="241.6" x2="250.5" y2="242.9"/><line x1="235.5" y1="226.3" x2="234.8" y2="227.5"/><line x1="242.9" y1="240.5" x2="243.3" y2="241.9"/><line x1="237.9" y1="226.3" x2="236.4" y2="226.9"/><line x1="240.4" y1="222.9" x2="240.3" y2="224.0"/><line x1="245.1" y1="239.7" x2="246.4" y2="240.7"/><line x1="237.2" y1="238.3" x2="237.0" y2="239.2"/><line x1="244.8" y1="250.6" x2="244.5" y2="252.4"/><line x1="239.1" y1="233.6" x2="240.8" y2="233.6"/><line x1="239.8" y1="230.4" x2="239.0" y2="231.5"/><line x1="255.7" y1="242.4" x2="254.2" y2="243.0"/><line x1="254.8" y1="251.3" x2="256.4" y2="252.2"/><line x1="242.9" y1="247.0" x2="241.8" y2="248.7"/><line x1="238.0" y1="232.8" x2="236.6" y2="234.4"/><line x1="246.1" y1="248.9" x2="248.1" y2="249.7"/><line x1="239.6" y1="235.9" x2="238.2" y2="236.7"/><line x1="236.2" y1="220.4" x2="238.0" y2="221.1"/><line x1="238.2" y1="239.5" x2="239.3" y2="240.9"/><line x1="250.8" y1="249.4" x2="250.0" y2="249.6"/><line x1="242.4" y1="224.5" x2="242.4" y2="226.5"/><line x1="254.0" y1="242.1" x2="255.2" y2="242.4"/><line x1="238.3" y1="232.4" x2="238.5" y2="234.0"/><line x1="242.6" y1="232.9" x2="244.2" y2="232.9"/><line x1="235.8" y1="224.8" x2="235.2" y2="225.8"/><line x1="240.2" y1="237.7" x2="241.3" y2="238.8"/><line x1="248.3" y1="247.8" x2="246.5" y2="248.5"/><line x1="248.8" y1="242.6" x2="249.3" y2="243.7"/></g>
<g stroke="#5a6610" stroke-width="1.60" stroke-linecap="round" stroke-opacity="1.0"><line x1="361.8" y1="200.3" x2="361.3" y2="201.5"/><line x1="352.6" y1="196.3" x2="353.9" y2="196.6"/><line x1="349.8" y1="194.4" x2="350.6" y2="195.2"/><line x1="343.4" y1="184.8" x2="345.4" y2="184.9"/><line x1="349.1" y1="197.6" x2="348.8" y2="198.8"/><line x1="342.8" y1="191.7" x2="341.8" y2="192.9"/><line x1="371.0" y1="193.4" x2="369.5" y2="193.8"/><line x1="368.3" y1="190.6" x2="368.8" y2="191.2"/><line x1="359.8" y1="187.9" x2="360.2" y2="188.9"/><line x1="358.2" y1="186.7" x2="356.8" y2="188.3"/><line x1="356.3" y1="181.8" x2="354.6" y2="183.0"/><line x1="343.4" y1="184.4" x2="344.7" y2="185.3"/><line x1="368.1" y1="206.4" x2="367.0" y2="206.6"/><line x1="357.9" y1="195.9" x2="357.2" y2="197.0"/><line x1="343.9" y1="199.7" x2="343.5" y2="200.8"/><line x1="370.2" y1="203.2" x2="369.3" y2="203.3"/><line x1="355.8" y1="209.7" x2="356.3" y2="210.5"/><line x1="363.3" y1="182.5" x2="362.2" y2="183.2"/><line x1="352.8" y1="203.5" x2="352.6" y2="205.2"/><line x1="355.9" y1="192.8" x2="355.1" y2="193.6"/><line x1="364.0" y1="191.6" x2="362.3" y2="193.0"/><line x1="349.0" y1="189.9" x2="348.9" y2="192.0"/><line x1="350.4" y1="206.8" x2="349.4" y2="207.6"/><line x1="361.8" y1="182.8" x2="362.8" y2="182.9"/><line x1="354.1" y1="186.7" x2="352.8" y2="186.9"/><line x1="364.0" y1="189.4" x2="362.5" y2="189.5"/><line x1="357.6" y1="193.4" x2="356.4" y2="194.2"/><line x1="332.9" y1="210.4" x2="334.6" y2="210.7"/><line x1="340.1" y1="197.3" x2="340.9" y2="198.0"/><line x1="361.8" y1="205.8" x2="363.1" y2="207.5"/><line x1="337.6" y1="203.0" x2="339.4" y2="204.0"/><line x1="367.9" y1="189.8" x2="366.6" y2="191.2"/><line x1="341.4" y1="192.2" x2="341.5" y2="194.3"/><line x1="336.3" y1="207.7" x2="335.9" y2="209.0"/><line x1="368.0" y1="186.4" x2="366.0" y2="187.3"/><line x1="335.1" y1="210.5" x2="336.1" y2="210.8"/><line x1="358.5" y1="182.0" x2="359.5" y2="183.8"/><line x1="359.3" y1="180.1" x2="359.3" y2="181.2"/><line x1="346.9" y1="183.4" x2="349.0" y2="183.6"/><line x1="336.1" y1="208.1" x2="337.7" y2="208.9"/><line x1="350.7" y1="183.2" x2="351.4" y2="184.5"/><line x1="368.6" y1="193.4" x2="370.3" y2="194.7"/><line x1="346.8" y1="202.6" x2="347.1" y2="203.3"/><line x1="359.4" y1="206.3" x2="359.2" y2="207.9"/><line x1="346.3" y1="191.6" x2="346.8" y2="193.7"/><line x1="345.9" y1="195.1" x2="346.2" y2="196.1"/><line x1="340.0" y1="204.7" x2="340.4" y2="205.8"/><line x1="359.9" y1="192.2" x2="359.2" y2="193.7"/><line x1="366.9" y1="199.9" x2="366.2" y2="202.0"/><line x1="339.8" y1="205.6" x2="338.9" y2="206.5"/><line x1="360.4" y1="195.1" x2="360.3" y2="196.7"/><line x1="359.1" y1="192.1" x2="358.5" y2="193.6"/><line x1="338.1" y1="204.6" x2="339.5" y2="206.1"/><line x1="351.6" y1="199.2" x2="352.4" y2="199.8"/><line x1="369.9" y1="201.0" x2="369.7" y2="202.5"/><line x1="364.0" y1="188.8" x2="365.6" y2="189.8"/><line x1="350.1" y1="206.0" x2="348.4" y2="207.1"/><line x1="364.5" y1="184.0" x2="365.5" y2="184.6"/><line x1="364.3" y1="201.0" x2="364.4" y2="201.9"/><line x1="359.5" y1="197.4" x2="359.6" y2="199.3"/><line x1="362.7" y1="184.9" x2="362.0" y2="186.0"/><line x1="351.7" y1="188.6" x2="352.2" y2="189.8"/><line x1="337.3" y1="203.4" x2="338.4" y2="203.6"/><line x1="360.3" y1="190.3" x2="360.9" y2="191.3"/><line x1="366.1" y1="182.0" x2="365.3" y2="183.8"/><line x1="363.7" y1="205.2" x2="364.0" y2="206.0"/><line x1="348.8" y1="194.3" x2="348.1" y2="195.3"/><line x1="347.5" y1="206.5" x2="346.4" y2="207.2"/><line x1="346.5" y1="203.8" x2="345.4" y2="204.0"/><line x1="362.3" y1="194.6" x2="362.2" y2="196.1"/><line x1="350.0" y1="198.5" x2="348.7" y2="199.2"/><line x1="348.4" y1="199.1" x2="348.3" y2="201.1"/><line x1="359.6" y1="202.2" x2="358.2" y2="203.4"/><line x1="332.0" y1="214.0" x2="332.8" y2="214.3"/><line x1="361.3" y1="203.1" x2="363.0" y2="203.4"/><line x1="359.4" y1="199.6" x2="361.2" y2="199.9"/><line x1="348.4" y1="204.1" x2="346.4" y2="204.1"/><line x1="367.0" y1="184.6" x2="367.7" y2="185.9"/><line x1="340.8" y1="189.8" x2="341.4" y2="190.8"/><line x1="366.8" y1="202.2" x2="366.8" y2="203.6"/><line x1="366.3" y1="189.8" x2="367.0" y2="190.3"/><line x1="352.5" y1="194.3" x2="352.7" y2="195.8"/><line x1="355.1" y1="194.4" x2="354.2" y2="195.0"/><line x1="368.8" y1="202.8" x2="370.1" y2="203.0"/><line x1="352.6" y1="196.0" x2="352.3" y2="197.2"/><line x1="364.2" y1="203.4" x2="364.5" y2="205.5"/><line x1="357.5" y1="180.9" x2="356.7" y2="181.3"/><line x1="356.0" y1="186.6" x2="354.5" y2="186.9"/><line x1="364.7" y1="199.7" x2="363.8" y2="201.2"/><line x1="342.4" y1="187.8" x2="341.5" y2="188.3"/><line x1="368.9" y1="187.8" x2="369.8" y2="188.0"/><line x1="346.5" y1="206.6" x2="348.0" y2="208.1"/><line x1="358.3" y1="185.5" x2="360.1" y2="185.8"/><line x1="330.5" y1="214.5" x2="331.2" y2="215.4"/><line x1="354.7" y1="192.2" x2="354.5" y2="193.2"/><line x1="369.6" y1="192.7" x2="368.7" y2="193.2"/><line x1="345.1" y1="206.0" x2="346.3" y2="207.1"/><line x1="361.3" y1="197.1" x2="360.8" y2="197.9"/><line x1="366.5" y1="184.0" x2="364.4" y2="184.5"/><line x1="369.9" y1="201.1" x2="370.7" y2="202.1"/><line x1="362.5" y1="200.2" x2="361.6" y2="200.5"/><line x1="354.8" y1="202.1" x2="355.8" y2="202.4"/><line x1="366.6" y1="188.7" x2="365.8" y2="188.9"/><line x1="357.5" y1="180.5" x2="358.2" y2="181.8"/><line x1="353.8" y1="182.2" x2="353.5" y2="184.1"/></g>
<g stroke="#1f3d9a" stroke-width="1.60" stroke-linecap="round" stroke-opacity="1.0"><line x1="290.2" y1="225.7" x2="291.7" y2="225.9"/><line x1="287.7" y1="226.8" x2="289.2" y2="227.4"/><line x1="290.0" y1="224.7" x2="289.5" y2="225.6"/><line x1="290.3" y1="228.2" x2="289.0" y2="228.8"/><line x1="289.2" y1="223.0" x2="288.3" y2="223.3"/><line x1="289.8" y1="226.0" x2="291.2" y2="226.6"/><line x1="288.8" y1="225.6" x2="288.8" y2="227.0"/><line x1="288.6" y1="225.1" x2="289.4" y2="225.7"/><line x1="289.4" y1="228.8" x2="291.6" y2="228.9"/><line x1="290.6" y1="227.3" x2="290.2" y2="229.0"/></g>
<g stroke="#74bd6a" stroke-width="1.60" stroke-linecap="round" stroke-opacity="1.0"><line x1="293.1" y1="247.7" x2="294.1" y2="248.3"/><line x1="296.1" y1="241.4" x2="295.2" y2="241.7"/><line x1="296.3" y1="239.9" x2="295.8" y2="241.7"/><line x1="296.4" y1="237.8" x2="297.6" y2="238.9"/><line x1="294.2" y1="238.1" x2="295.5" y2="239.4"/><line x1="296.5" y1="239.2" x2="297.0" y2="240.1"/><line x1="292.8" y1="239.6" x2="293.9" y2="241.5"/><line x1="296.2" y1="243.8" x2="294.6" y2="245.1"/><line x1="295.3" y1="239.7" x2="293.6" y2="239.9"/><line x1="298.1" y1="238.8" x2="296.3" y2="239.9"/><line x1="293.4" y1="248.9" x2="294.2" y2="249.6"/><line x1="295.2" y1="239.8" x2="295.2" y2="241.8"/><line x1="295.4" y1="247.9" x2="294.0" y2="249.0"/><line x1="295.3" y1="237.8" x2="294.4" y2="239.6"/><line x1="295.2" y1="245.4" x2="293.5" y2="246.3"/><line x1="292.7" y1="238.7" x2="291.5" y2="239.4"/><line x1="293.9" y1="239.6" x2="294.8" y2="241.4"/><line x1="295.8" y1="241.4" x2="296.9" y2="241.8"/><line x1="293.9" y1="241.2" x2="292.6" y2="241.4"/><line x1="293.9" y1="249.0" x2="293.2" y2="250.9"/><line x1="295.5" y1="244.4" x2="294.0" y2="244.6"/><line x1="297.8" y1="239.4" x2="297.8" y2="240.2"/></g>
<g stroke="#9cc0dc" stroke-width="1.60" stroke-linecap="round" stroke-opacity="1.0"><line x1="279.1" y1="257.7" x2="280.6" y2="258.2"/><line x1="282.6" y1="259.5" x2="284.2" y2="259.9"/><line x1="282.0" y1="257.2" x2="281.9" y2="258.9"/><line x1="282.1" y1="258.2" x2="282.4" y2="260.0"/><line x1="283.7" y1="259.7" x2="283.1" y2="260.3"/></g>
<g stroke="#111" stroke-width="1.60" stroke-linecap="round" stroke-opacity="1.0"><line x1="294.5" y1="256.6" x2="292.5" y2="256.9"/><line x1="292.8" y1="258.7" x2="292.5" y2="259.5"/><line x1="294.0" y1="259.4" x2="293.5" y2="260.5"/><line x1="295.5" y1="256.9" x2="295.3" y2="258.2"/><line x1="295.2" y1="258.6" x2="296.0" y2="260.6"/><line x1="294.9" y1="259.3" x2="295.5" y2="260.1"/><line x1="295.1" y1="260.0" x2="294.1" y2="260.8"/><line x1="293.1" y1="258.5" x2="292.2" y2="258.9"/></g>
<g stroke="#35a07a" stroke-width="1.50" stroke-linecap="round" stroke-opacity="1.0"><line x1="331.8" y1="261.2" x2="332.3" y2="261.9"/><line x1="326.5" y1="264.6" x2="324.4" y2="264.9"/><line x1="324.3" y1="263.5" x2="323.3" y2="263.7"/><line x1="325.3" y1="265.4" x2="326.4" y2="265.8"/><line x1="327.5" y1="264.7" x2="326.3" y2="264.8"/><line x1="328.1" y1="270.7" x2="327.4" y2="272.4"/><line x1="326.2" y1="260.8" x2="325.2" y2="261.8"/><line x1="329.8" y1="268.6" x2="329.0" y2="269.5"/><line x1="326.5" y1="272.2" x2="326.4" y2="273.4"/><line x1="330.8" y1="262.6" x2="330.1" y2="263.2"/><line x1="332.9" y1="266.5" x2="333.9" y2="268.4"/><line x1="324.2" y1="262.5" x2="325.7" y2="262.8"/><line x1="332.0" y1="268.2" x2="332.6" y2="270.1"/><line x1="323.1" y1="262.6" x2="322.2" y2="264.6"/><line x1="331.0" y1="268.9" x2="330.0" y2="269.8"/><line x1="326.7" y1="264.5" x2="325.6" y2="265.3"/><line x1="329.5" y1="265.9" x2="328.5" y2="267.7"/><line x1="322.3" y1="263.9" x2="323.7" y2="264.2"/><line x1="328.9" y1="271.1" x2="328.1" y2="272.5"/><line x1="326.4" y1="266.9" x2="327.7" y2="268.4"/><line x1="332.1" y1="271.2" x2="333.6" y2="272.0"/><line x1="333.3" y1="266.2" x2="331.3" y2="266.8"/><line x1="332.6" y1="270.4" x2="331.7" y2="272.2"/><line x1="323.5" y1="268.9" x2="322.5" y2="270.2"/><line x1="325.4" y1="259.1" x2="324.8" y2="260.9"/><line x1="324.7" y1="261.9" x2="325.5" y2="262.5"/><line x1="333.3" y1="264.0" x2="332.8" y2="264.8"/><line x1="332.7" y1="263.9" x2="334.4" y2="263.9"/><line x1="322.4" y1="263.0" x2="323.8" y2="263.3"/><line x1="328.4" y1="271.0" x2="330.3" y2="271.2"/><line x1="322.9" y1="261.8" x2="322.4" y2="263.0"/><line x1="325.2" y1="266.9" x2="326.7" y2="268.1"/><line x1="324.8" y1="271.2" x2="323.5" y2="272.0"/><line x1="321.3" y1="266.1" x2="321.5" y2="267.0"/><line x1="330.6" y1="269.2" x2="330.3" y2="270.5"/><line x1="327.9" y1="267.2" x2="329.4" y2="268.5"/><line x1="328.0" y1="260.1" x2="328.3" y2="261.9"/><line x1="331.4" y1="265.4" x2="331.9" y2="266.3"/><line x1="326.3" y1="262.7" x2="327.8" y2="263.8"/><line x1="328.0" y1="265.1" x2="329.5" y2="266.1"/><line x1="324.1" y1="262.1" x2="323.8" y2="263.9"/><line x1="331.3" y1="269.7" x2="332.4" y2="269.9"/><line x1="331.4" y1="268.0" x2="332.3" y2="268.9"/><line x1="324.1" y1="268.5" x2="322.8" y2="268.5"/><line x1="326.9" y1="272.1" x2="325.7" y2="272.9"/><line x1="321.7" y1="260.2" x2="323.4" y2="261.0"/><line x1="327.7" y1="271.1" x2="328.6" y2="271.5"/><line x1="329.0" y1="266.3" x2="329.9" y2="267.0"/><line x1="332.4" y1="273.1" x2="330.9" y2="273.2"/><line x1="332.8" y1="264.2" x2="331.2" y2="265.3"/><line x1="322.4" y1="258.7" x2="323.6" y2="259.7"/><line x1="333.4" y1="270.4" x2="333.5" y2="271.2"/><line x1="333.7" y1="266.9" x2="334.9" y2="267.2"/><line x1="330.3" y1="271.4" x2="330.4" y2="273.1"/><line x1="324.7" y1="262.5" x2="323.4" y2="262.8"/></g>
<g stroke="#ad781a" stroke-width="1.60" stroke-linecap="round" stroke-opacity="1.0"><line x1="313.4" y1="309.2" x2="314.4" y2="309.6"/><line x1="322.6" y1="308.5" x2="321.9" y2="310.1"/><line x1="322.1" y1="298.1" x2="321.5" y2="298.8"/><line x1="323.0" y1="304.6" x2="322.1" y2="306.2"/><line x1="317.5" y1="310.0" x2="316.7" y2="311.2"/><line x1="317.6" y1="304.6" x2="316.1" y2="305.8"/><line x1="325.9" y1="312.5" x2="326.9" y2="312.6"/><line x1="316.5" y1="316.0" x2="317.8" y2="317.1"/><line x1="333.9" y1="310.3" x2="332.8" y2="310.6"/><line x1="315.4" y1="297.1" x2="314.8" y2="297.7"/><line x1="333.6" y1="311.4" x2="335.2" y2="312.4"/><line x1="314.4" y1="307.4" x2="316.2" y2="308.1"/><line x1="331.4" y1="316.2" x2="333.4" y2="316.3"/><line x1="324.6" y1="313.4" x2="324.6" y2="315.1"/><line x1="325.0" y1="313.7" x2="325.9" y2="313.9"/><line x1="324.2" y1="302.7" x2="324.4" y2="303.5"/><line x1="330.9" y1="313.6" x2="331.1" y2="314.5"/><line x1="326.7" y1="300.9" x2="326.9" y2="301.8"/><line x1="334.2" y1="308.1" x2="334.7" y2="308.9"/><line x1="329.1" y1="314.6" x2="328.2" y2="315.1"/><line x1="320.5" y1="303.0" x2="319.8" y2="303.7"/><line x1="326.1" y1="317.3" x2="325.4" y2="317.8"/><line x1="313.7" y1="298.7" x2="312.8" y2="300.1"/><line x1="323.5" y1="305.8" x2="324.0" y2="307.4"/><line x1="327.4" y1="315.5" x2="326.1" y2="317.0"/><line x1="333.2" y1="314.3" x2="332.7" y2="314.9"/><line x1="327.3" y1="313.9" x2="327.7" y2="315.8"/><line x1="321.5" y1="311.4" x2="322.3" y2="312.3"/><line x1="319.0" y1="303.6" x2="320.4" y2="304.0"/><line x1="335.5" y1="310.5" x2="333.6" y2="310.9"/><line x1="328.7" y1="302.3" x2="329.7" y2="303.2"/><line x1="331.8" y1="315.5" x2="332.8" y2="317.1"/><line x1="330.3" y1="315.2" x2="329.1" y2="316.2"/><line x1="318.6" y1="309.5" x2="319.2" y2="310.9"/><line x1="324.1" y1="309.6" x2="323.8" y2="311.7"/><line x1="321.7" y1="315.3" x2="320.5" y2="317.1"/><line x1="313.0" y1="300.6" x2="314.2" y2="302.3"/><line x1="316.1" y1="305.5" x2="315.2" y2="306.9"/><line x1="328.6" y1="312.4" x2="329.4" y2="313.2"/><line x1="311.7" y1="311.2" x2="312.6" y2="311.9"/><line x1="334.4" y1="309.7" x2="333.9" y2="311.3"/><line x1="325.3" y1="311.2" x2="325.8" y2="312.0"/><line x1="319.3" y1="299.7" x2="320.7" y2="300.2"/><line x1="333.7" y1="310.7" x2="334.9" y2="312.1"/><line x1="315.3" y1="298.5" x2="316.1" y2="299.7"/><line x1="328.0" y1="306.0" x2="327.4" y2="306.7"/><line x1="331.9" y1="313.3" x2="331.3" y2="314.4"/><line x1="327.2" y1="308.9" x2="326.7" y2="309.8"/><line x1="315.5" y1="299.0" x2="314.2" y2="299.1"/><line x1="326.5" y1="308.7" x2="327.2" y2="309.2"/><line x1="319.2" y1="311.8" x2="320.9" y2="312.6"/><line x1="317.4" y1="304.2" x2="317.4" y2="305.2"/><line x1="316.9" y1="313.2" x2="317.8" y2="314.2"/><line x1="329.0" y1="301.4" x2="329.9" y2="302.0"/><line x1="320.8" y1="304.0" x2="320.2" y2="305.3"/><line x1="326.8" y1="314.3" x2="327.4" y2="314.8"/><line x1="321.7" y1="298.5" x2="321.9" y2="300.3"/><line x1="313.7" y1="299.0" x2="313.7" y2="300.0"/><line x1="316.5" y1="306.1" x2="317.3" y2="306.4"/><line x1="320.8" y1="306.7" x2="319.2" y2="307.0"/><line x1="313.7" y1="301.1" x2="312.6" y2="302.2"/><line x1="333.3" y1="307.7" x2="334.1" y2="308.4"/><line x1="314.2" y1="302.4" x2="312.8" y2="302.7"/><line x1="321.5" y1="303.2" x2="322.8" y2="304.2"/><line x1="320.7" y1="299.5" x2="319.3" y2="299.6"/><line x1="316.1" y1="296.6" x2="315.4" y2="297.9"/><line x1="312.6" y1="306.3" x2="311.5" y2="307.4"/><line x1="317.3" y1="306.7" x2="316.7" y2="308.3"/><line x1="315.8" y1="313.7" x2="314.0" y2="314.0"/><line x1="332.1" y1="304.6" x2="331.1" y2="304.9"/><line x1="317.3" y1="309.4" x2="316.4" y2="309.7"/><line x1="316.5" y1="297.3" x2="316.7" y2="298.2"/><line x1="316.3" y1="311.7" x2="315.7" y2="313.7"/><line x1="319.9" y1="311.2" x2="322.0" y2="311.3"/><line x1="317.0" y1="306.0" x2="316.9" y2="308.1"/><line x1="326.6" y1="301.3" x2="325.6" y2="301.8"/><line x1="318.7" y1="304.8" x2="319.5" y2="306.3"/><line x1="311.2" y1="304.4" x2="312.9" y2="305.3"/><line x1="317.7" y1="305.7" x2="317.4" y2="307.4"/><line x1="313.7" y1="301.7" x2="315.7" y2="302.4"/><line x1="315.1" y1="299.1" x2="314.9" y2="300.7"/><line x1="317.2" y1="299.8" x2="316.8" y2="301.2"/><line x1="321.6" y1="314.8" x2="320.6" y2="316.5"/><line x1="332.6" y1="305.4" x2="334.7" y2="305.7"/><line x1="313.6" y1="296.9" x2="314.3" y2="297.8"/><line x1="322.2" y1="307.7" x2="320.5" y2="308.6"/><line x1="326.3" y1="307.6" x2="327.4" y2="308.0"/><line x1="327.8" y1="308.7" x2="326.1" y2="309.9"/><line x1="325.2" y1="300.3" x2="324.6" y2="301.3"/><line x1="317.1" y1="303.8" x2="317.0" y2="305.6"/><line x1="313.5" y1="311.9" x2="312.9" y2="313.2"/><line x1="326.6" y1="313.8" x2="328.0" y2="313.8"/><line x1="327.7" y1="311.4" x2="327.2" y2="312.4"/><line x1="333.5" y1="313.0" x2="334.5" y2="314.0"/><line x1="321.6" y1="317.0" x2="320.6" y2="317.4"/><line x1="329.2" y1="303.7" x2="328.3" y2="305.4"/><line x1="314.0" y1="301.3" x2="315.0" y2="302.0"/><line x1="320.3" y1="305.6" x2="321.8" y2="306.0"/><line x1="333.3" y1="308.3" x2="334.0" y2="309.9"/><line x1="321.8" y1="300.3" x2="321.8" y2="301.1"/><line x1="327.0" y1="299.4" x2="327.8" y2="301.4"/><line x1="329.9" y1="313.8" x2="329.2" y2="315.3"/><line x1="327.3" y1="316.8" x2="328.8" y2="317.8"/><line x1="319.3" y1="301.9" x2="317.9" y2="302.8"/><line x1="331.6" y1="314.9" x2="331.3" y2="315.9"/><line x1="312.2" y1="307.8" x2="311.5" y2="308.7"/><line x1="315.0" y1="311.6" x2="316.1" y2="311.6"/><line x1="318.1" y1="311.9" x2="317.3" y2="311.9"/><line x1="319.0" y1="307.4" x2="319.8" y2="308.6"/><line x1="322.3" y1="302.4" x2="323.2" y2="302.5"/><line x1="315.7" y1="298.1" x2="315.0" y2="299.7"/><line x1="318.1" y1="313.1" x2="317.3" y2="314.1"/><line x1="323.8" y1="300.8" x2="322.3" y2="301.1"/><line x1="328.1" y1="304.7" x2="327.4" y2="305.5"/><line x1="329.5" y1="313.6" x2="331.0" y2="314.1"/><line x1="316.8" y1="311.3" x2="315.2" y2="312.4"/><line x1="317.3" y1="298.3" x2="316.5" y2="299.7"/><line x1="314.9" y1="300.6" x2="314.6" y2="301.5"/><line x1="325.9" y1="301.6" x2="326.9" y2="302.6"/><line x1="323.1" y1="312.1" x2="324.9" y2="312.3"/><line x1="317.1" y1="302.3" x2="316.3" y2="303.9"/><line x1="325.5" y1="315.6" x2="326.4" y2="316.3"/><line x1="326.6" y1="302.2" x2="327.6" y2="302.7"/><line x1="330.3" y1="313.5" x2="329.0" y2="315.2"/><line x1="329.7" y1="302.7" x2="330.7" y2="304.3"/><line x1="312.4" y1="309.7" x2="313.2" y2="309.9"/><line x1="324.6" y1="300.0" x2="322.6" y2="300.4"/><line x1="321.6" y1="300.9" x2="323.1" y2="301.4"/><line x1="324.2" y1="304.0" x2="323.3" y2="305.2"/><line x1="313.1" y1="304.6" x2="313.2" y2="305.7"/></g>
<g stroke="#a82a98" stroke-width="1.60" stroke-linecap="round" stroke-opacity="1.0"><line x1="172.4" y1="277.7" x2="171.2" y2="279.2"/><line x1="174.1" y1="277.2" x2="172.1" y2="277.7"/><line x1="174.9" y1="283.5" x2="175.4" y2="284.2"/><line x1="167.4" y1="277.5" x2="166.9" y2="278.7"/><line x1="166.2" y1="287.2" x2="165.1" y2="288.1"/><line x1="165.1" y1="275.4" x2="167.1" y2="276.0"/><line x1="165.9" y1="264.5" x2="167.3" y2="265.2"/><line x1="168.1" y1="287.5" x2="168.4" y2="288.7"/><line x1="167.5" y1="270.6" x2="166.5" y2="270.7"/><line x1="171.3" y1="287.0" x2="169.4" y2="287.7"/><line x1="175.8" y1="294.0" x2="175.4" y2="295.1"/><line x1="175.7" y1="286.1" x2="175.1" y2="286.9"/><line x1="166.3" y1="289.2" x2="166.9" y2="290.3"/><line x1="170.8" y1="278.2" x2="169.7" y2="278.2"/><line x1="168.0" y1="287.0" x2="168.5" y2="287.9"/><line x1="175.0" y1="289.7" x2="173.5" y2="290.4"/><line x1="179.5" y1="292.5" x2="178.2" y2="292.7"/><line x1="184.3" y1="289.4" x2="185.2" y2="290.4"/><line x1="173.0" y1="273.9" x2="173.4" y2="274.8"/><line x1="169.3" y1="292.2" x2="169.8" y2="293.8"/><line x1="185.0" y1="287.1" x2="186.5" y2="288.5"/><line x1="182.3" y1="287.5" x2="181.4" y2="288.1"/><line x1="185.1" y1="290.7" x2="184.2" y2="291.1"/><line x1="187.4" y1="286.7" x2="186.5" y2="288.2"/><line x1="177.0" y1="276.9" x2="177.9" y2="278.6"/><line x1="182.7" y1="291.2" x2="183.7" y2="292.0"/><line x1="169.9" y1="265.5" x2="170.3" y2="266.2"/><line x1="166.1" y1="264.4" x2="165.4" y2="265.2"/><line x1="176.2" y1="275.3" x2="174.5" y2="276.6"/><line x1="172.3" y1="283.4" x2="170.9" y2="283.9"/><line x1="185.5" y1="286.2" x2="186.6" y2="287.9"/><line x1="178.4" y1="289.5" x2="178.4" y2="291.0"/><line x1="174.5" y1="291.5" x2="173.9" y2="292.5"/><line x1="173.8" y1="274.6" x2="172.0" y2="274.8"/><line x1="164.7" y1="281.4" x2="165.0" y2="283.2"/><line x1="177.3" y1="289.6" x2="176.3" y2="290.4"/><line x1="169.9" y1="287.1" x2="169.0" y2="287.8"/><line x1="175.3" y1="274.4" x2="174.0" y2="276.1"/><line x1="168.5" y1="271.8" x2="169.4" y2="273.4"/><line x1="168.6" y1="280.0" x2="168.6" y2="281.7"/><line x1="182.2" y1="290.6" x2="183.0" y2="292.5"/><line x1="169.1" y1="262.3" x2="169.1" y2="264.3"/><line x1="176.6" y1="293.3" x2="176.4" y2="294.2"/><line x1="179.3" y1="288.6" x2="179.7" y2="290.2"/><line x1="170.2" y1="271.0" x2="170.5" y2="272.5"/><line x1="181.1" y1="287.2" x2="182.0" y2="288.0"/><line x1="178.1" y1="292.3" x2="179.4" y2="293.3"/><line x1="182.2" y1="286.9" x2="181.1" y2="288.3"/><line x1="171.1" y1="290.5" x2="170.3" y2="290.7"/><line x1="166.8" y1="264.3" x2="165.4" y2="265.4"/><line x1="167.9" y1="276.9" x2="167.0" y2="278.9"/><line x1="171.8" y1="287.8" x2="172.6" y2="288.6"/><line x1="168.2" y1="275.7" x2="167.7" y2="276.8"/><line x1="167.5" y1="269.7" x2="168.5" y2="270.0"/><line x1="171.1" y1="279.0" x2="172.4" y2="279.8"/><line x1="174.7" y1="294.0" x2="174.8" y2="296.2"/><line x1="168.8" y1="264.1" x2="167.5" y2="265.8"/><line x1="173.7" y1="273.7" x2="174.0" y2="275.0"/></g>
<g stroke="#a82a98" stroke-width="1.60" stroke-linecap="round" stroke-opacity="1.0"><line x1="151.5" y1="296.8" x2="153.3" y2="297.7"/><line x1="154.4" y1="302.3" x2="155.1" y2="303.8"/><line x1="155.7" y1="296.8" x2="155.9" y2="298.0"/><line x1="151.0" y1="301.1" x2="149.6" y2="302.7"/><line x1="145.0" y1="296.4" x2="143.3" y2="297.2"/><line x1="150.3" y1="301.2" x2="151.4" y2="303.1"/><line x1="149.8" y1="297.2" x2="150.6" y2="297.7"/><line x1="148.8" y1="298.1" x2="149.6" y2="300.0"/><line x1="148.1" y1="299.5" x2="146.4" y2="299.8"/><line x1="148.9" y1="295.4" x2="149.4" y2="297.0"/><line x1="153.5" y1="294.4" x2="154.1" y2="295.6"/><line x1="147.5" y1="305.6" x2="147.4" y2="306.8"/><line x1="146.2" y1="304.2" x2="147.8" y2="305.1"/><line x1="143.6" y1="294.3" x2="144.8" y2="294.5"/><line x1="154.0" y1="302.6" x2="152.0" y2="303.2"/><line x1="149.3" y1="306.1" x2="151.3" y2="306.6"/><line x1="149.2" y1="293.1" x2="147.8" y2="294.5"/><line x1="148.6" y1="291.7" x2="146.9" y2="292.5"/><line x1="152.1" y1="301.2" x2="153.1" y2="301.5"/><line x1="145.3" y1="300.1" x2="144.2" y2="301.9"/><line x1="148.1" y1="296.8" x2="148.9" y2="297.6"/><line x1="152.2" y1="293.2" x2="153.0" y2="293.8"/><line x1="146.5" y1="303.0" x2="148.0" y2="303.3"/><line x1="148.8" y1="303.4" x2="148.4" y2="304.8"/><line x1="154.9" y1="300.2" x2="155.6" y2="301.4"/><line x1="155.3" y1="299.9" x2="156.2" y2="300.4"/><line x1="146.8" y1="302.4" x2="148.7" y2="302.4"/><line x1="152.8" y1="299.3" x2="154.7" y2="299.4"/><line x1="148.4" y1="301.1" x2="148.0" y2="302.9"/><line x1="149.2" y1="306.9" x2="147.1" y2="307.2"/><line x1="151.0" y1="295.4" x2="151.5" y2="296.5"/><line x1="154.7" y1="304.6" x2="152.9" y2="304.7"/><line x1="146.2" y1="302.9" x2="147.3" y2="304.1"/><line x1="149.8" y1="295.1" x2="148.9" y2="295.3"/><line x1="144.5" y1="302.6" x2="144.0" y2="304.6"/><line x1="151.2" y1="297.8" x2="150.3" y2="297.9"/><line x1="153.3" y1="291.9" x2="154.0" y2="292.6"/><line x1="155.4" y1="297.7" x2="154.7" y2="298.5"/></g>
<g stroke="#f0a820" stroke-width="1.60" stroke-linecap="round" stroke-opacity="1.0"><line x1="237.5" y1="307.6" x2="239.0" y2="308.0"/><line x1="238.2" y1="294.7" x2="237.7" y2="295.7"/><line x1="225.7" y1="315.5" x2="223.5" y2="315.9"/><line x1="227.5" y1="305.1" x2="225.9" y2="306.1"/><line x1="227.5" y1="313.0" x2="228.2" y2="315.1"/><line x1="228.8" y1="292.1" x2="228.1" y2="292.8"/><line x1="237.1" y1="290.5" x2="235.5" y2="290.6"/><line x1="238.9" y1="292.2" x2="238.4" y2="293.4"/><line x1="219.2" y1="312.6" x2="220.7" y2="312.7"/><line x1="228.7" y1="301.9" x2="227.6" y2="303.3"/><line x1="223.1" y1="315.8" x2="224.0" y2="316.3"/><line x1="240.8" y1="292.1" x2="242.1" y2="292.9"/><line x1="224.0" y1="293.6" x2="222.6" y2="293.9"/><line x1="240.9" y1="296.1" x2="239.8" y2="296.4"/><line x1="245.9" y1="306.7" x2="244.0" y2="306.9"/><line x1="235.1" y1="304.1" x2="233.8" y2="304.8"/><line x1="241.5" y1="308.4" x2="240.7" y2="309.2"/><line x1="229.1" y1="312.7" x2="227.1" y2="313.0"/><line x1="216.7" y1="308.2" x2="216.5" y2="309.5"/><line x1="227.9" y1="302.8" x2="228.8" y2="303.8"/><line x1="231.7" y1="310.6" x2="231.4" y2="311.6"/><line x1="245.2" y1="299.5" x2="243.1" y2="299.8"/><line x1="216.5" y1="305.8" x2="215.2" y2="306.0"/><line x1="230.8" y1="298.1" x2="231.8" y2="298.2"/><line x1="215.5" y1="296.5" x2="214.9" y2="298.0"/><line x1="224.6" y1="315.8" x2="223.9" y2="317.2"/><line x1="242.9" y1="307.7" x2="243.6" y2="309.2"/><line x1="231.5" y1="294.5" x2="231.5" y2="295.4"/><line x1="242.9" y1="307.5" x2="241.7" y2="309.3"/><line x1="213.0" y1="301.3" x2="211.8" y2="301.4"/><line x1="231.8" y1="288.3" x2="232.4" y2="290.3"/><line x1="232.4" y1="312.9" x2="233.4" y2="312.9"/><line x1="216.3" y1="312.8" x2="218.3" y2="313.5"/><line x1="220.7" y1="313.9" x2="220.6" y2="315.2"/><line x1="247.5" y1="300.4" x2="247.0" y2="301.1"/><line x1="214.4" y1="310.3" x2="215.0" y2="311.0"/><line x1="225.4" y1="308.0" x2="223.3" y2="308.4"/><line x1="235.8" y1="293.1" x2="234.8" y2="294.3"/><line x1="223.8" y1="314.7" x2="224.5" y2="315.5"/><line x1="232.2" y1="311.9" x2="233.5" y2="312.6"/><line x1="232.1" y1="304.5" x2="232.5" y2="306.0"/><line x1="227.0" y1="295.5" x2="226.2" y2="296.3"/><line x1="241.1" y1="295.8" x2="242.5" y2="296.2"/><line x1="225.6" y1="298.4" x2="224.8" y2="299.1"/><line x1="235.8" y1="312.5" x2="236.1" y2="314.0"/><line x1="245.2" y1="306.3" x2="246.0" y2="306.8"/><line x1="212.8" y1="298.4" x2="214.4" y2="298.9"/><line x1="226.6" y1="296.9" x2="226.6" y2="299.0"/><line x1="219.4" y1="293.0" x2="220.1" y2="294.0"/><line x1="245.0" y1="309.0" x2="245.2" y2="310.0"/><line x1="242.0" y1="307.4" x2="243.4" y2="308.2"/><line x1="212.5" y1="303.3" x2="213.0" y2="304.1"/><line x1="238.7" y1="309.3" x2="238.7" y2="310.3"/><line x1="236.2" y1="301.2" x2="235.7" y2="302.0"/><line x1="218.6" y1="300.3" x2="219.3" y2="300.8"/><line x1="223.5" y1="296.2" x2="222.9" y2="297.2"/><line x1="225.6" y1="308.5" x2="225.8" y2="309.5"/><line x1="214.2" y1="304.7" x2="212.1" y2="304.8"/><line x1="214.3" y1="303.0" x2="214.3" y2="304.1"/><line x1="236.5" y1="303.0" x2="235.5" y2="303.7"/><line x1="228.5" y1="292.6" x2="228.5" y2="293.6"/><line x1="236.8" y1="308.2" x2="236.3" y2="310.3"/><line x1="240.7" y1="291.9" x2="241.2" y2="292.6"/><line x1="232.2" y1="309.2" x2="233.1" y2="310.8"/><line x1="223.7" y1="308.8" x2="225.1" y2="310.5"/><line x1="226.3" y1="288.8" x2="228.0" y2="289.4"/><line x1="242.5" y1="307.0" x2="244.3" y2="307.9"/><line x1="237.4" y1="291.5" x2="238.1" y2="293.2"/><line x1="224.6" y1="314.4" x2="223.3" y2="314.4"/><line x1="244.2" y1="306.0" x2="242.5" y2="306.1"/><line x1="245.9" y1="305.0" x2="247.1" y2="305.9"/><line x1="228.6" y1="298.1" x2="229.1" y2="299.5"/><line x1="232.4" y1="294.9" x2="233.3" y2="296.0"/><line x1="229.9" y1="300.7" x2="229.4" y2="301.6"/><line x1="231.4" y1="296.4" x2="230.0" y2="297.6"/><line x1="239.4" y1="303.3" x2="240.9" y2="304.7"/><line x1="229.5" y1="299.3" x2="230.3" y2="300.4"/><line x1="237.4" y1="311.8" x2="237.5" y2="313.6"/><line x1="218.3" y1="301.6" x2="218.9" y2="302.7"/><line x1="224.5" y1="310.5" x2="223.8" y2="311.3"/><line x1="219.8" y1="311.0" x2="219.0" y2="312.5"/><line x1="234.3" y1="308.8" x2="234.9" y2="309.4"/><line x1="225.0" y1="289.8" x2="223.4" y2="290.0"/><line x1="240.8" y1="295.2" x2="241.3" y2="296.1"/><line x1="240.7" y1="309.7" x2="240.8" y2="311.0"/><line x1="221.4" y1="302.3" x2="220.1" y2="303.9"/><line x1="226.6" y1="300.3" x2="227.8" y2="302.1"/><line x1="216.8" y1="292.8" x2="218.1" y2="294.4"/><line x1="243.8" y1="298.2" x2="242.0" y2="299.1"/><line x1="227.2" y1="294.1" x2="226.2" y2="295.0"/><line x1="227.4" y1="300.0" x2="227.0" y2="301.1"/><line x1="224.5" y1="288.5" x2="225.3" y2="290.2"/><line x1="223.4" y1="308.2" x2="222.9" y2="309.2"/><line x1="232.9" y1="296.9" x2="234.5" y2="298.1"/><line x1="245.3" y1="295.0" x2="244.8" y2="296.5"/><line x1="222.3" y1="289.3" x2="223.2" y2="290.8"/><line x1="232.9" y1="303.6" x2="233.9" y2="304.0"/><line x1="221.9" y1="300.1" x2="222.8" y2="302.0"/><line x1="219.0" y1="313.3" x2="220.2" y2="314.4"/><line x1="225.6" y1="289.5" x2="224.1" y2="290.7"/></g>
<g stroke="#f0a820" stroke-width="1.70" stroke-linecap="round" stroke-opacity="1.0"><line x1="223.7" y1="327.6" x2="223.8" y2="329.8"/><line x1="223.9" y1="326.9" x2="222.4" y2="328.1"/><line x1="228.1" y1="325.3" x2="227.3" y2="325.9"/><line x1="223.4" y1="327.4" x2="223.8" y2="329.6"/><line x1="221.0" y1="325.9" x2="221.6" y2="326.4"/><line x1="225.2" y1="325.4" x2="225.2" y2="326.6"/><line x1="230.3" y1="326.6" x2="229.3" y2="326.7"/><line x1="226.8" y1="325.5" x2="227.5" y2="327.4"/><line x1="222.7" y1="328.9" x2="223.2" y2="330.1"/><line x1="228.3" y1="326.6" x2="228.9" y2="327.4"/><line x1="232.6" y1="325.2" x2="234.2" y2="325.8"/><line x1="226.9" y1="324.3" x2="228.0" y2="326.0"/><line x1="225.4" y1="325.8" x2="224.1" y2="325.9"/><line x1="226.1" y1="323.0" x2="225.2" y2="324.6"/><line x1="225.5" y1="325.1" x2="227.0" y2="326.4"/><line x1="226.1" y1="328.3" x2="226.8" y2="330.0"/><line x1="229.4" y1="325.9" x2="229.5" y2="327.0"/><line x1="222.8" y1="327.2" x2="222.1" y2="328.1"/><line x1="229.2" y1="323.1" x2="228.8" y2="324.1"/><line x1="227.2" y1="324.5" x2="227.1" y2="325.5"/></g>
<g stroke="#8a1414" stroke-width="1.80" stroke-linecap="round" stroke-opacity="1.0"><line x1="245.8" y1="318.6" x2="246.9" y2="319.1"/><line x1="248.4" y1="317.4" x2="247.8" y2="319.2"/><line x1="247.0" y1="315.1" x2="247.3" y2="317.0"/><line x1="246.8" y1="319.1" x2="247.4" y2="320.4"/><line x1="249.0" y1="316.1" x2="248.1" y2="316.6"/><line x1="248.4" y1="318.1" x2="250.5" y2="318.2"/><line x1="246.4" y1="319.7" x2="245.5" y2="321.0"/><line x1="247.1" y1="315.1" x2="248.1" y2="315.6"/><line x1="250.9" y1="320.6" x2="249.4" y2="320.6"/><line x1="250.1" y1="316.2" x2="248.2" y2="316.7"/><line x1="247.6" y1="315.8" x2="249.6" y2="316.4"/><line x1="247.4" y1="318.6" x2="246.5" y2="319.0"/><line x1="248.9" y1="317.3" x2="247.7" y2="318.2"/><line x1="245.0" y1="319.4" x2="244.0" y2="320.0"/></g>
<g stroke="#6656b0" stroke-width="1.60" stroke-linecap="round" stroke-opacity="1.0"><line x1="226.0" y1="347.8" x2="226.9" y2="348.5"/><line x1="222.5" y1="349.7" x2="224.3" y2="349.8"/><line x1="227.1" y1="355.1" x2="227.5" y2="356.1"/><line x1="221.1" y1="352.7" x2="220.4" y2="354.0"/><line x1="224.4" y1="344.2" x2="223.0" y2="344.6"/><line x1="222.6" y1="353.7" x2="224.1" y2="354.7"/><line x1="220.3" y1="354.4" x2="221.4" y2="354.8"/><line x1="225.2" y1="348.7" x2="225.8" y2="350.2"/><line x1="217.6" y1="348.8" x2="219.6" y2="348.8"/><line x1="219.3" y1="354.1" x2="219.1" y2="355.7"/><line x1="225.8" y1="343.6" x2="224.9" y2="344.3"/><line x1="229.8" y1="353.4" x2="228.7" y2="355.0"/><line x1="222.7" y1="352.4" x2="221.7" y2="352.5"/><line x1="216.7" y1="347.9" x2="216.6" y2="348.9"/><line x1="218.5" y1="355.0" x2="218.8" y2="355.9"/><line x1="217.4" y1="350.5" x2="218.6" y2="351.4"/><line x1="223.9" y1="347.8" x2="223.9" y2="349.8"/><line x1="227.7" y1="350.3" x2="227.6" y2="351.4"/><line x1="228.3" y1="346.3" x2="227.5" y2="347.2"/><line x1="224.2" y1="351.4" x2="224.7" y2="352.7"/><line x1="216.4" y1="351.6" x2="215.8" y2="352.4"/><line x1="223.1" y1="353.1" x2="225.0" y2="353.7"/><line x1="218.8" y1="343.0" x2="219.4" y2="343.6"/><line x1="222.6" y1="345.3" x2="223.5" y2="346.5"/><line x1="221.4" y1="353.9" x2="220.8" y2="354.6"/><line x1="221.0" y1="342.9" x2="219.9" y2="344.4"/><line x1="221.6" y1="355.8" x2="222.0" y2="357.0"/><line x1="223.3" y1="347.9" x2="223.6" y2="349.8"/><line x1="228.1" y1="349.0" x2="229.3" y2="349.7"/><line x1="230.1" y1="347.6" x2="229.3" y2="349.0"/><line x1="222.0" y1="350.4" x2="223.2" y2="351.5"/><line x1="221.5" y1="355.6" x2="220.7" y2="355.7"/><line x1="226.0" y1="351.5" x2="224.7" y2="352.1"/><line x1="217.7" y1="345.9" x2="216.6" y2="347.4"/><line x1="218.8" y1="351.2" x2="218.0" y2="352.7"/><line x1="214.9" y1="348.1" x2="215.8" y2="349.5"/><line x1="220.9" y1="343.5" x2="220.2" y2="344.5"/><line x1="228.2" y1="345.8" x2="227.9" y2="347.7"/><line x1="215.9" y1="353.1" x2="217.9" y2="353.6"/><line x1="220.8" y1="344.1" x2="221.3" y2="345.5"/><line x1="221.9" y1="343.3" x2="221.8" y2="344.5"/><line x1="222.8" y1="345.5" x2="221.6" y2="345.6"/></g>
<path d="M172.3,213.7 L175.7,212.2 L179.0,214.1 L179.5,217.5 L178.0,219.4 L182.9,221.8 L188.7,222.3 L192.5,225.2 L193.5,230.0 L190.6,231.9 L188.7,233.8 L191.5,236.7 L197.3,238.2 L199.2,241.5 L197.3,245.4 L197.3,251.2 L194.4,254.0 L189.6,253.6 L183.8,254.5 L179.0,252.1 L178.0,247.3 L176.2,244.4 L169.4,244.4 L164.6,243.5 L162.7,239.6 L164.1,235.8 L167.5,232.9 L170.9,231.4 L172.3,229.0 L171.3,224.2 L170.9,218.5 Z" fill="#e8250e" stroke="#e8250e" stroke-width="0.8" stroke-linejoin="round"/>
<g fill="#e8250e"><circle cx="173.0" cy="215.3" r="2.0"/><circle cx="174.6" cy="214.6" r="2.2"/><circle cx="176.1" cy="214.0" r="2.1"/><circle cx="177.7" cy="214.8" r="2.3"/><circle cx="179.2" cy="215.7" r="2.3"/><circle cx="179.4" cy="217.3" r="1.9"/><circle cx="179.6" cy="218.8" r="1.8"/><circle cx="178.9" cy="219.7" r="2.5"/><circle cx="178.3" cy="220.6" r="2.0"/><circle cx="180.5" cy="221.7" r="2.0"/><circle cx="182.8" cy="222.8" r="2.6"/><circle cx="185.4" cy="223.0" r="2.2"/><circle cx="188.1" cy="223.3" r="2.5"/><circle cx="189.9" cy="224.6" r="2.2"/><circle cx="191.6" cy="225.9" r="2.3"/><circle cx="192.1" cy="228.1" r="1.9"/><circle cx="192.5" cy="230.3" r="2.3"/><circle cx="191.2" cy="231.2" r="2.5"/><circle cx="189.9" cy="232.1" r="2.2"/><circle cx="189.0" cy="233.0" r="2.4"/><circle cx="188.1" cy="233.8" r="2.3"/><circle cx="189.4" cy="235.2" r="1.9"/><circle cx="190.7" cy="236.5" r="2.4"/><circle cx="193.3" cy="237.2" r="2.3"/><circle cx="196.0" cy="237.9" r="2.0"/><circle cx="196.9" cy="239.4" r="1.8"/><circle cx="197.8" cy="240.9" r="2.5"/><circle cx="196.9" cy="242.7" r="2.2"/><circle cx="196.0" cy="244.5" r="2.4"/><circle cx="196.0" cy="247.2" r="2.5"/><circle cx="196.0" cy="249.8" r="2.4"/><circle cx="194.7" cy="251.1" r="2.5"/><circle cx="193.3" cy="252.4" r="2.1"/><circle cx="191.1" cy="252.2" r="2.4"/><circle cx="188.9" cy="252.0" r="2.2"/><circle cx="186.3" cy="252.5" r="2.5"/><circle cx="183.6" cy="252.9" r="2.5"/><circle cx="181.4" cy="251.8" r="1.9"/><circle cx="179.2" cy="250.7" r="1.9"/><circle cx="178.7" cy="248.5" r="2.0"/><circle cx="178.3" cy="246.3" r="2.6"/><circle cx="177.4" cy="244.9" r="2.1"/><circle cx="176.6" cy="243.6" r="2.3"/><circle cx="173.5" cy="243.6" r="2.0"/><circle cx="170.3" cy="243.6" r="2.2"/><circle cx="168.1" cy="243.2" r="2.1"/><circle cx="165.9" cy="242.8" r="2.1"/><circle cx="165.1" cy="241.0" r="2.3"/><circle cx="164.2" cy="239.2" r="2.3"/><circle cx="164.8" cy="237.4" r="2.5"/><circle cx="165.5" cy="235.7" r="2.3"/><circle cx="167.0" cy="234.3" r="2.5"/><circle cx="168.6" cy="233.0" r="2.5"/><circle cx="170.2" cy="232.3" r="2.6"/><circle cx="171.7" cy="231.6" r="2.3"/><circle cx="172.4" cy="230.5" r="1.9"/><circle cx="173.0" cy="229.4" r="2.5"/><circle cx="172.6" cy="227.2" r="2.6"/><circle cx="172.1" cy="225.0" r="2.5"/><circle cx="171.9" cy="222.4" r="2.3"/><circle cx="171.7" cy="219.8" r="2.4"/><circle cx="172.4" cy="217.5" r="2.0"/></g>
<ellipse cx="163.4" cy="224.2" rx="4.6" ry="2.5" transform="rotate(-40 163.4 224.2)" fill="#e8250e"/>
<circle cx="161" cy="42" r="3.9" fill="#e0200e"/>
<circle cx="264.4" cy="99.4" r="3.4" fill="#e0200e"/>
<circle cx="156" cy="212.3" r="3.3" fill="#e0200e"/>
<circle cx="285.2" cy="234.4" r="3.4" fill="#e0200e"/>
<text x="135" y="79" font-size="8.6" fill="#d8b248" text-anchor="start" font-weight="normal" >DUX4</text>
<text x="176" y="38.5" font-size="8.6" fill="#d42a2a" text-anchor="start" font-weight="normal" >SJALL062320</text>
<text x="176" y="56.5" font-size="8.6" fill="#d42a2a" text-anchor="start" font-weight="normal" >SJALL062317</text>
<line x1="173" y1="34.8" x2="169.5" y2="36.5" stroke="#d42a2a" stroke-width="0.9"/><polygon points="165.4,38.4 168.5,34.5 170.4,38.5" fill="#d42a2a"/>
<line x1="174" y1="51.2" x2="168.8" y2="49.0" stroke="#d42a2a" stroke-width="0.9"/><polygon points="164.6,47.3 169.6,47.0 167.9,51.1" fill="#d42a2a"/>
<text x="244" y="48.5" font-size="8.6" fill="#f4b8c8" text-anchor="start" font-weight="normal" >ETV6::RUNX1</text>
<text x="237.5" y="122.8" font-size="8.6" fill="#d42a2a" text-anchor="start" font-weight="normal" >SJALL062722</text>
<line x1="264.4" y1="112.5" x2="264.4" y2="108.5" stroke="#d42a2a" stroke-width="0.9"/><polygon points="264.4,104.0 266.6,108.5 262.2,108.5" fill="#d42a2a"/>
<text x="133.5" y="169.3" font-size="8.6" fill="#5b8ec6" text-anchor="start" font-weight="normal" >Hyperdiploid</text>
<text x="227.3" y="169.3" font-size="8.6" fill="#c4c62a" text-anchor="start" font-weight="normal" >IKZF1 N159Y</text>
<text x="343" y="178.2" font-size="8.6" fill="#707040" text-anchor="start" font-weight="normal" >KMT2A</text>
<text x="43.7" y="210" font-size="8.6" fill="#a8c848" text-anchor="start" font-weight="normal" >ZNF384</text>
<text x="77" y="216" font-size="8.6" fill="#d42a2a" text-anchor="start" font-weight="normal" >SJBALL021031</text>
<line x1="137" y1="212.4" x2="146.1" y2="212.4" stroke="#d42a2a" stroke-width="0.9"/><polygon points="150.6,212.4 146.1,214.6 146.1,210.2" fill="#d42a2a"/>
<text x="255.5" y="203.4" font-size="8.6" fill="#d42a2a" text-anchor="start" font-weight="normal" >SJBALL030771</text>
<line x1="285" y1="204.2" x2="285.0" y2="225.0" stroke="#d42a2a" stroke-width="0.9"/><polygon points="285.0,229.5 282.8,225.0 287.2,225.0" fill="#d42a2a"/>
<text x="212" y="216.5" font-size="8.6" fill="#9a9a9a" text-anchor="start" font-weight="normal" >Low Hypodiploid</text>
<text x="294" y="230.7" font-size="8.6" fill="#2a3c9c" text-anchor="start" font-weight="normal" >ZEB2+CEBPE</text>
<text x="302" y="248.2" font-size="8.6" fill="#80c070" text-anchor="start" font-weight="normal" >BLC2/MYC</text>
<text x="160.5" y="246.5" font-size="8.6" fill="#d42a2a" text-anchor="end" font-weight="normal" >iAMP21</text>
<text x="270.4" y="254.7" font-size="8.6" fill="#a8c6e0" text-anchor="start" font-weight="normal" >HLF</text>
<text x="285" y="271" font-size="8.6" fill="#111" text-anchor="start" font-weight="normal" >NUTM1</text>
<text x="337.5" y="270.5" font-size="8.6" fill="#72c4aa" text-anchor="start" font-weight="normal" >MEF2D</text>
<text x="150.8" y="286.6" font-size="8.6" fill="#b060a8" text-anchor="start" font-weight="normal" >Ph</text>
<text x="215.2" y="286.5" font-size="8.6" fill="#f2b444" text-anchor="start" font-weight="normal" >PAX5alt</text>
<text x="240.8" y="330.7" font-size="8.6" fill="#8c2222" text-anchor="start" font-weight="normal" >PAX5::ETV6</text>
<text x="311.7" y="327.6" font-size="8.6" fill="#a88038" text-anchor="start" font-weight="normal" >TCF3::PBX1</text>
<text x="200.8" y="366.8" font-size="8.6" fill="#7868b2" text-anchor="start" font-weight="normal" >PAX5 P80R</text>
<text x="9.6" y="409" font-size="13.6" font-weight="bold" fill="#111">B</text>
<text x="0" y="0" font-size="8.8" fill="#222" transform="translate(30.6,447.3) rotate(-90)" textLength="38.5" lengthAdjust="spacingAndGlyphs">Subgroup</text>
<text x="0" y="0" font-size="8.8" fill="#222" transform="translate(40.6,447.3) rotate(-90)" textLength="42.3" lengthAdjust="spacingAndGlyphs">HighestCN</text>
<text x="66" y="426.6" font-size="10.6" fill="#222" textLength="28" lengthAdjust="spacingAndGlyphs">chr21</text>
<rect x="44.4" y="429.8" width="21.6" height="4.6" fill="#dedede"/>
<rect x="66" y="429.8" width="30.7" height="4.6" fill="#5b7aa2"/>
<rect x="96.7" y="429.8" width="31.3" height="4.6" fill="#dedede"/>
<rect x="128" y="429.8" width="26.6" height="4.6" fill="#d81818"/>
<rect x="154.6" y="429.8" width="15.4" height="4.6" fill="#ffffff"/>
<rect x="170" y="429.8" width="58.0" height="4.6" fill="#0a0a0a"/>
<rect x="228" y="429.8" width="21.6" height="4.6" fill="#ffffff"/>
<rect x="249.6" y="429.8" width="36.4" height="4.6" fill="#8a8a8a"/>
<rect x="286" y="429.8" width="32.4" height="4.6" fill="#ffffff"/>
<rect x="318.4" y="429.8" width="15.6" height="4.6" fill="#c8c8c8"/>
<rect x="334" y="429.8" width="14.4" height="4.6" fill="#ffffff"/>
<rect x="348.4" y="429.8" width="22.6" height="4.6" fill="#c8c8c8"/>
<rect x="371" y="429.8" width="42.2" height="4.6" fill="#ffffff"/>
<rect x="44.9" y="429.8" width="367.8" height="4.6" fill="none" stroke="#333" stroke-width="1"/>
<rect x="44.9" y="435.3" width="367.8" height="12.0" fill="#fff" stroke="#333" stroke-width="1"/>
<text x="66.8" y="445.5" font-size="8.8" fill="#222" textLength="27.2" lengthAdjust="spacingAndGlyphs">GISTIC</text>
<polyline fill="none" stroke="#e0607a" stroke-width="0.8" points="100.0,446.2 101.5,446.3 103.0,446.3 104.5,446.3 106.0,446.3 107.5,446.3 109.0,446.0 110.5,446.1 112.0,446.3 113.5,446.2 115.0,446.3 116.5,445.9 118.0,446.1 119.5,446.0 121.0,446.1 122.5,446.1 124.0,445.8 125.5,445.9 127.0,445.9 128.5,446.2 130.0,446.1 131.5,445.8 133.0,446.1 134.5,445.8 136.0,445.9 137.5,445.7 139.0,445.6 140.5,445.9 142.0,445.6 143.5,445.6 145.0,445.9 146.5,445.8 148.0,445.6 149.5,445.8 151.0,445.6 152.5,445.7 154.0,445.1 155.5,445.8 157.0,445.4 158.5,445.6 160.0,445.5 161.5,444.8 163.0,444.8 164.5,444.6 166.0,444.6 167.5,444.4 169.0,444.6 170.5,444.9 172.0,444.3 173.5,444.9 175.0,444.5 176.5,444.5 178.0,445.0 179.5,444.6 181.0,444.4 182.5,444.5 184.0,444.6 185.5,443.9 187.0,444.8 188.5,443.8 190.0,444.4 191.5,444.5 193.0,443.6 194.5,444.3 196.0,443.8 197.5,444.0 199.0,443.3 200.5,443.3 202.0,443.4 203.5,444.2 205.0,443.3 206.5,443.9 208.0,444.0 209.5,444.0 211.0,443.3 212.5,443.3 214.0,443.4 215.5,443.6 217.0,442.9 218.5,443.5 220.0,443.5 221.5,443.5 223.0,442.6 224.5,443.4 226.0,442.5 227.5,442.7 229.0,442.9 230.5,443.1 232.0,442.5 233.5,443.0 235.0,442.5 236.5,442.2 238.0,442.1 239.5,441.9 241.0,441.8 242.5,441.8 244.0,442.2 245.5,442.5 247.0,441.6 248.5,441.4 250.0,442.5 251.5,442.3 253.0,442.5 254.5,442.6 256.0,443.2 257.5,443.7 259.0,443.7 260.5,444.1 262.0,444.1 263.5,445.3 265.0,444.8 266.5,445.1 268.0,445.0 269.5,443.9 271.0,444.1 272.5,444.0 274.0,443.4 275.5,443.3 277.0,442.4 278.5,442.5 280.0,441.9 281.5,442.4 283.0,441.6 284.5,441.5 286.0,441.8 287.5,441.4 289.0,441.2 290.5,440.4 292.0,440.0 293.5,439.8 295.0,439.2 296.5,438.6 298.0,438.3 299.5,437.6 301.0,437.5 302.5,437.9 304.0,437.7 305.5,437.2 307.0,436.8 308.5,436.4 310.0,436.0 311.5,436.1 313.0,436.6 314.5,436.7 316.0,436.1 317.5,436.5 319.0,436.5 320.5,436.4 322.0,436.3 323.5,436.4 325.0,436.0 326.5,436.3 328.0,435.8 329.5,436.0 331.0,436.3 332.5,436.2 334.0,435.8 335.5,436.5 337.0,436.2 338.5,436.1 340.0,435.6 341.5,436.1 343.0,435.8 344.5,436.3 346.0,436.1 347.5,436.4 349.0,436.3 350.5,436.4 352.0,436.0 353.5,436.3 355.0,436.4 356.5,436.5 358.0,436.3 359.5,437.3 361.0,437.7 362.5,438.0 364.0,438.7 365.5,439.1 367.0,439.0 368.5,439.4 370.0,439.4 371.5,440.5 373.0,440.9 374.5,440.6 376.0,440.9 377.5,441.1 379.0,441.3 380.5,440.8 382.0,441.6 383.5,441.5 385.0,441.8 386.5,441.6 388.0,442.0 389.5,442.2 391.0,442.2 392.5,442.4 394.0,441.8 395.5,442.1 397.0,442.5 398.5,442.8 400.0,442.5 401.5,443.1 403.0,443.2 404.5,442.8 406.0,443.3 407.5,443.2 409.0,443.5 410.5,444.0 412.0,444.7"/>
<polyline fill="none" stroke="#6a8cc0" stroke-width="0.8" points="362,446.8 380,446.3 395,445.6 405,444.9 412.5,444.2"/>
<line x1="45.5" y1="446.7" x2="412.5" y2="446.7" stroke="#4a7aa8" stroke-width="1"/>
<text x="0" y="0" font-size="7" fill="#222" transform="translate(288.6,423.6) rotate(-45)" textLength="23.5" lengthAdjust="spacingAndGlyphs">TIAM1</text>
<text x="0" y="0" font-size="7" fill="#222" transform="translate(297.6,424.0) rotate(-45)" textLength="28.4" lengthAdjust="spacingAndGlyphs">32.8MB</text>
<text x="0" y="0" font-size="7" fill="#222" transform="translate(319.2,423.4) rotate(-45)" textLength="25" lengthAdjust="spacingAndGlyphs">RUNX1</text>
<text x="0" y="0" font-size="7" fill="#222" transform="translate(347.6,423.6) rotate(-45)" textLength="27.6" lengthAdjust="spacingAndGlyphs">40.6MB</text>
<text x="0" y="0" font-size="7" fill="#222" transform="translate(360.6,424.2) rotate(-45)" textLength="29.2" lengthAdjust="spacingAndGlyphs">HMGN1</text>
<path d="M292.2,429.3 C292.2,426.5 291.2,425 290.6,423.6 M294.8,429.3 C294.8,426.5 295.8,425 296.6,423.6" fill="none" stroke="#222" stroke-width="0.75"/>
<path d="M320.4,429.3 L320.4,423.3" fill="none" stroke="#222" stroke-width="0.75"/>
<path d="M355,429.3 L355,426 L352.7,423.1 M355,426 L358.3,423.1" fill="none" stroke="#222" stroke-width="0.75"/>
<defs><pattern id="ptr" patternUnits="userSpaceOnUse" x="154.10" y="0" width="6.05" height="10"><rect width="6.05" height="10" fill="#e41e1e"/><rect x="0" y="0" width="0.9" height="10" fill="#cc1010" fill-opacity="0.55"/></pattern><pattern id="ptd" patternUnits="userSpaceOnUse" x="154.10" y="0" width="6.05" height="10"><rect width="6.05" height="10" fill="#c80c10"/><rect x="0" y="0" width="0.9" height="10" fill="#a80808" fill-opacity="0.55"/></pattern><pattern id="ptm" patternUnits="userSpaceOnUse" x="154.10" y="0" width="6.05" height="10"><rect width="6.05" height="10" fill="#ea5a5c"/><rect x="0" y="0" width="0.9" height="10" fill="#d84444" fill-opacity="0.55"/></pattern><pattern id="ptb" patternUnits="userSpaceOnUse" x="154.10" y="0" width="6.05" height="10"><rect width="6.05" height="10" fill="#6e6eb6"/><rect x="0" y="0" width="0.9" height="10" fill="#5a5aa6" fill-opacity="0.55"/></pattern><pattern id="ptn" patternUnits="userSpaceOnUse" x="154.10" y="0" width="6.05" height="10"><rect width="6.05" height="10" fill="#5050a4"/><rect x="0" y="0" width="0.9" height="10" fill="#3a3a90" fill-opacity="0.55"/></pattern><pattern id="ptk" patternUnits="userSpaceOnUse" x="154.10" y="0" width="6.05" height="10"><rect width="6.05" height="10" fill="#f2a6ab"/><rect x="0" y="0" width="0.9" height="10" fill="#e88890" fill-opacity="0.55"/></pattern><pattern id="ptc" patternUnits="userSpaceOnUse" x="154.10" y="0" width="6.05" height="10"><rect width="6.05" height="10" fill="#b8b8de"/><rect x="0" y="0" width="0.9" height="10" fill="#a0a0d0" fill-opacity="0.55"/></pattern><pattern id="pb0" patternUnits="userSpaceOnUse" x="154.10" y="0" width="6.05" height="10"><rect width="6.05" height="10" fill="#6e6eb6"/><rect x="0" y="0" width="0.9" height="10" fill="#4a4a98" fill-opacity="0.5"/></pattern><pattern id="pb1" patternUnits="userSpaceOnUse" x="154.10" y="0" width="6.05" height="10"><rect width="6.05" height="10" fill="#7878be"/><rect x="0" y="0" width="0.9" height="10" fill="#4a4a98" fill-opacity="0.5"/></pattern><pattern id="pb2" patternUnits="userSpaceOnUse" x="154.10" y="0" width="6.05" height="10"><rect width="6.05" height="10" fill="#6666ae"/><rect x="0" y="0" width="0.9" height="10" fill="#4a4a98" fill-opacity="0.5"/></pattern><pattern id="pb3" patternUnits="userSpaceOnUse" x="154.10" y="0" width="6.05" height="10"><rect width="6.05" height="10" fill="#8282c6"/><rect x="0" y="0" width="0.9" height="10" fill="#4a4a98" fill-opacity="0.5"/></pattern><pattern id="pb4" patternUnits="userSpaceOnUse" x="154.10" y="0" width="6.05" height="10"><rect width="6.05" height="10" fill="#7070b8"/><rect x="0" y="0" width="0.9" height="10" fill="#4a4a98" fill-opacity="0.5"/></pattern></defs>
<rect x="112.25" y="449.90" width="108.90" height="3.67" fill="#ffffff"/>
<rect x="221.15" y="449.90" width="187.55" height="3.67" fill="url(#ptr)"/>
<rect x="408.70" y="449.90" width="4.00" height="3.67" fill="#ffffff"/>
<rect x="130.40" y="452.97" width="18.15" height="3.67" fill="#fdf4f5"/>
<rect x="148.55" y="452.97" width="6.05" height="3.67" fill="url(#ptk)"/>
<rect x="154.60" y="452.97" width="24.20" height="3.67" fill="url(#ptm)"/>
<rect x="178.80" y="452.97" width="6.05" height="3.67" fill="#fdf4f5"/>
<rect x="184.85" y="452.97" width="6.05" height="3.67" fill="url(#ptk)"/>
<rect x="190.90" y="452.97" width="12.10" height="3.67" fill="#fdf4f5"/>
<rect x="203.00" y="452.97" width="6.05" height="3.67" fill="url(#ptk)"/>
<rect x="209.05" y="452.97" width="12.10" height="3.67" fill="url(#ptd)"/>
<rect x="221.15" y="452.97" width="133.10" height="3.67" fill="url(#ptr)"/>
<rect x="354.25" y="452.97" width="12.10" height="3.67" fill="#fdf4f5"/>
<rect x="366.35" y="452.97" width="42.35" height="3.67" fill="url(#ptr)"/>
<rect x="408.70" y="452.97" width="4.00" height="3.67" fill="#ffffff"/>
<rect x="112.25" y="456.04" width="108.90" height="3.67" fill="#ffffff"/>
<rect x="221.15" y="456.04" width="187.55" height="3.67" fill="url(#ptr)"/>
<rect x="408.70" y="456.04" width="4.00" height="3.67" fill="#ffffff"/>
<rect x="112.25" y="459.11" width="108.90" height="3.67" fill="#ffffff"/>
<rect x="221.15" y="459.11" width="48.40" height="3.67" fill="url(#ptk)"/>
<rect x="269.55" y="459.11" width="139.15" height="3.67" fill="url(#ptr)"/>
<rect x="408.70" y="459.11" width="4.00" height="3.67" fill="#ffffff"/>
<rect x="112.25" y="462.18" width="108.90" height="3.67" fill="#ffffff"/>
<rect x="221.15" y="462.18" width="48.40" height="3.67" fill="#f9d8dc"/>
<rect x="269.55" y="462.18" width="139.15" height="3.67" fill="url(#ptr)"/>
<rect x="408.70" y="462.18" width="4.00" height="3.67" fill="#ffffff"/>
<rect x="112.25" y="465.25" width="127.05" height="3.67" fill="#fdf4f5"/>
<rect x="239.30" y="465.25" width="18.15" height="3.67" fill="url(#ptk)"/>
<rect x="257.45" y="465.25" width="6.05" height="3.67" fill="url(#ptr)"/>
<rect x="263.50" y="465.25" width="12.10" height="3.67" fill="url(#ptk)"/>
<rect x="275.60" y="465.25" width="133.10" height="3.67" fill="url(#ptr)"/>
<rect x="408.70" y="465.25" width="4.00" height="3.67" fill="#ffffff"/>
<rect x="112.25" y="468.32" width="42.35" height="3.67" fill="#fdf4f5"/>
<rect x="154.60" y="468.32" width="6.05" height="3.67" fill="url(#ptk)"/>
<rect x="160.65" y="468.32" width="24.20" height="3.67" fill="#fdf4f5"/>
<rect x="184.85" y="468.32" width="12.10" height="3.67" fill="url(#ptm)"/>
<rect x="196.95" y="468.32" width="60.50" height="3.67" fill="url(#ptk)"/>
<rect x="257.45" y="468.32" width="151.25" height="3.67" fill="url(#ptr)"/>
<rect x="408.70" y="468.32" width="4.00" height="3.67" fill="#ffffff"/>
<rect x="112.25" y="471.39" width="42.35" height="3.67" fill="#f9d8dc"/>
<rect x="154.60" y="471.39" width="30.25" height="3.67" fill="url(#ptk)"/>
<rect x="184.85" y="471.39" width="6.05" height="3.67" fill="url(#ptm)"/>
<rect x="190.90" y="471.39" width="66.55" height="3.67" fill="url(#ptk)"/>
<rect x="257.45" y="471.39" width="145.05" height="3.67" fill="url(#ptr)"/>
<rect x="402.50" y="471.39" width="10.20" height="3.67" fill="url(#pb0)"/>
<rect x="112.25" y="474.46" width="6.05" height="3.67" fill="#fdf4f5"/>
<rect x="118.30" y="474.46" width="12.10" height="3.67" fill="#e6e6f4"/>
<rect x="130.40" y="474.46" width="24.20" height="3.67" fill="#fdf4f5"/>
<rect x="154.60" y="474.46" width="102.85" height="3.67" fill="url(#ptm)"/>
<rect x="257.45" y="474.46" width="6.05" height="3.67" fill="url(#ptk)"/>
<rect x="263.50" y="474.46" width="135.70" height="3.67" fill="url(#ptr)"/>
<rect x="399.20" y="474.46" width="13.50" height="3.67" fill="url(#pb2)"/>
<rect x="112.25" y="477.53" width="36.30" height="3.67" fill="#fdf4f5"/>
<rect x="148.55" y="477.53" width="66.55" height="3.67" fill="#ffffff"/>
<rect x="215.10" y="477.53" width="18.15" height="3.67" fill="url(#ptk)"/>
<rect x="233.25" y="477.53" width="162.55" height="3.67" fill="url(#ptr)"/>
<rect x="395.80" y="477.53" width="16.90" height="3.67" fill="url(#pb4)"/>
<rect x="112.25" y="480.60" width="145.20" height="3.67" fill="#ffffff"/>
<rect x="257.45" y="480.60" width="6.05" height="3.67" fill="url(#ptr)"/>
<rect x="263.50" y="480.60" width="54.45" height="3.67" fill="url(#ptk)"/>
<rect x="317.95" y="480.60" width="76.15" height="3.67" fill="url(#ptr)"/>
<rect x="394.10" y="480.60" width="18.60" height="3.67" fill="url(#pb1)"/>
<rect x="112.25" y="483.67" width="36.30" height="3.67" fill="#ffffff"/>
<rect x="148.55" y="483.67" width="66.55" height="3.67" fill="#fdf4f5"/>
<rect x="215.10" y="483.67" width="24.20" height="3.67" fill="url(#ptk)"/>
<rect x="239.30" y="483.67" width="153.60" height="3.67" fill="url(#ptr)"/>
<rect x="392.90" y="483.67" width="19.80" height="3.67" fill="url(#pb3)"/>
<rect x="112.25" y="486.74" width="48.40" height="3.67" fill="#fdf4f5"/>
<rect x="160.65" y="486.74" width="12.10" height="3.67" fill="url(#ptm)"/>
<rect x="172.75" y="486.74" width="12.10" height="3.67" fill="url(#ptk)"/>
<rect x="184.85" y="486.74" width="72.60" height="3.67" fill="url(#ptr)"/>
<rect x="257.45" y="486.74" width="6.05" height="3.67" fill="#fdf4f5"/>
<rect x="263.50" y="486.74" width="128.20" height="3.67" fill="url(#ptr)"/>
<rect x="391.70" y="486.74" width="21.00" height="3.67" fill="url(#pb0)"/>
<rect x="112.25" y="489.81" width="36.30" height="3.67" fill="#f9d8dc"/>
<rect x="148.55" y="489.81" width="54.45" height="3.67" fill="#fdf4f5"/>
<rect x="203.00" y="489.81" width="18.15" height="3.67" fill="url(#ptk)"/>
<rect x="221.15" y="489.81" width="42.35" height="3.67" fill="url(#ptr)"/>
<rect x="263.50" y="489.81" width="24.20" height="3.67" fill="#fdf4f5"/>
<rect x="287.70" y="489.81" width="18.15" height="3.67" fill="url(#ptk)"/>
<rect x="305.85" y="489.81" width="84.65" height="3.67" fill="url(#ptr)"/>
<rect x="390.50" y="489.81" width="22.20" height="3.67" fill="url(#pb2)"/>
<rect x="112.25" y="492.88" width="42.35" height="3.67" fill="#fdf4f5"/>
<rect x="154.60" y="492.88" width="30.25" height="3.67" fill="url(#ptk)"/>
<rect x="184.85" y="492.88" width="36.30" height="3.67" fill="#ffffff"/>
<rect x="221.15" y="492.88" width="168.05" height="3.67" fill="url(#ptr)"/>
<rect x="389.20" y="492.88" width="23.50" height="3.67" fill="url(#pb4)"/>
<rect x="112.25" y="495.95" width="36.30" height="3.67" fill="#fdf4f5"/>
<rect x="148.55" y="495.95" width="54.45" height="3.67" fill="#ffffff"/>
<rect x="203.00" y="495.95" width="184.50" height="3.67" fill="url(#ptr)"/>
<rect x="387.50" y="495.95" width="25.20" height="3.67" fill="url(#pb1)"/>
<rect x="112.25" y="499.02" width="36.30" height="3.67" fill="#ffffff"/>
<rect x="148.55" y="499.02" width="54.45" height="3.67" fill="#fdf4f5"/>
<rect x="203.00" y="499.02" width="54.45" height="3.67" fill="url(#ptr)"/>
<rect x="257.45" y="499.02" width="18.15" height="3.67" fill="url(#ptk)"/>
<rect x="275.60" y="499.02" width="110.10" height="3.67" fill="url(#ptr)"/>
<rect x="385.70" y="499.02" width="27.00" height="3.67" fill="url(#pb3)"/>
<rect x="112.25" y="502.08" width="108.90" height="3.67" fill="#ffffff"/>
<rect x="221.15" y="502.08" width="36.30" height="3.67" fill="url(#ptr)"/>
<rect x="257.45" y="502.08" width="6.05" height="3.67" fill="url(#ptk)"/>
<rect x="263.50" y="502.08" width="120.30" height="3.67" fill="url(#ptr)"/>
<rect x="383.80" y="502.08" width="28.90" height="3.67" fill="url(#pb0)"/>
<rect x="112.25" y="505.15" width="36.30" height="3.67" fill="#ffffff"/>
<rect x="148.55" y="505.15" width="30.25" height="3.67" fill="#fdf4f5"/>
<rect x="178.80" y="505.15" width="203.10" height="3.67" fill="url(#ptr)"/>
<rect x="381.90" y="505.15" width="30.80" height="3.67" fill="url(#pb2)"/>
<rect x="112.25" y="508.22" width="42.35" height="3.67" fill="#fdf4f5"/>
<rect x="154.60" y="508.22" width="30.25" height="3.67" fill="url(#ptk)"/>
<rect x="184.85" y="508.22" width="12.10" height="3.67" fill="#ffffff"/>
<rect x="196.95" y="508.22" width="6.05" height="3.67" fill="url(#ptm)"/>
<rect x="203.00" y="508.22" width="48.40" height="3.67" fill="url(#ptr)"/>
<rect x="251.40" y="508.22" width="12.10" height="3.67" fill="#ffffff"/>
<rect x="263.50" y="508.22" width="116.60" height="3.67" fill="url(#ptr)"/>
<rect x="380.10" y="508.22" width="32.60" height="3.67" fill="url(#pb4)"/>
<rect x="112.25" y="511.29" width="42.35" height="3.67" fill="#fdf4f5"/>
<rect x="154.60" y="511.29" width="30.25" height="3.67" fill="url(#ptk)"/>
<rect x="184.85" y="511.29" width="6.05" height="3.67" fill="#ffffff"/>
<rect x="190.90" y="511.29" width="12.10" height="3.67" fill="url(#ptm)"/>
<rect x="203.00" y="511.29" width="12.10" height="3.67" fill="url(#ptr)"/>
<rect x="215.10" y="511.29" width="12.10" height="3.67" fill="#ffffff"/>
<rect x="227.20" y="511.29" width="151.50" height="3.67" fill="url(#ptr)"/>
<rect x="378.70" y="511.29" width="34.00" height="3.67" fill="url(#pb1)"/>
<rect x="112.25" y="514.36" width="36.30" height="3.67" fill="#ffffff"/>
<rect x="148.55" y="514.36" width="48.40" height="3.67" fill="#fdf4f5"/>
<rect x="196.95" y="514.36" width="18.15" height="3.67" fill="url(#ptd)"/>
<rect x="215.10" y="514.36" width="162.40" height="3.67" fill="url(#ptr)"/>
<rect x="377.50" y="514.36" width="35.20" height="3.67" fill="url(#pb3)"/>
<rect x="112.25" y="517.43" width="12.10" height="3.67" fill="#e6e6f4"/>
<rect x="124.35" y="517.43" width="36.30" height="3.67" fill="#fdf4f5"/>
<rect x="160.65" y="517.43" width="18.15" height="3.67" fill="url(#ptk)"/>
<rect x="178.80" y="517.43" width="66.55" height="3.67" fill="#ffffff"/>
<rect x="245.35" y="517.43" width="12.10" height="3.67" fill="url(#ptk)"/>
<rect x="257.45" y="517.43" width="12.10" height="3.67" fill="#fdf4f5"/>
<rect x="269.55" y="517.43" width="106.75" height="3.67" fill="url(#ptr)"/>
<rect x="376.30" y="517.43" width="36.40" height="3.67" fill="url(#pb0)"/>
<rect x="112.25" y="520.50" width="48.40" height="3.67" fill="#fdf4f5"/>
<rect x="160.65" y="520.50" width="18.15" height="3.67" fill="url(#ptm)"/>
<rect x="178.80" y="520.50" width="6.05" height="3.67" fill="url(#ptk)"/>
<rect x="184.85" y="520.50" width="24.20" height="3.67" fill="#ffffff"/>
<rect x="209.05" y="520.50" width="54.45" height="3.67" fill="url(#ptr)"/>
<rect x="263.50" y="520.50" width="6.05" height="3.67" fill="#ffffff"/>
<rect x="269.55" y="520.50" width="18.15" height="3.67" fill="url(#ptr)"/>
<rect x="287.70" y="520.50" width="6.05" height="3.67" fill="#ffffff"/>
<rect x="293.75" y="520.50" width="81.35" height="3.67" fill="url(#ptr)"/>
<rect x="375.10" y="520.50" width="37.60" height="3.67" fill="url(#pb2)"/>
<rect x="112.25" y="523.57" width="48.40" height="3.67" fill="#fdf4f5"/>
<rect x="160.65" y="523.57" width="42.35" height="3.67" fill="url(#ptk)"/>
<rect x="203.00" y="523.57" width="54.45" height="3.67" fill="url(#ptr)"/>
<rect x="257.45" y="523.57" width="54.45" height="3.67" fill="url(#ptk)"/>
<rect x="311.90" y="523.57" width="62.00" height="3.67" fill="url(#ptr)"/>
<rect x="373.90" y="523.57" width="38.80" height="3.67" fill="url(#pb4)"/>
<rect x="112.25" y="526.64" width="36.30" height="3.67" fill="#f9d8dc"/>
<rect x="148.55" y="526.64" width="6.05" height="3.67" fill="url(#ptk)"/>
<rect x="154.60" y="526.64" width="30.25" height="3.67" fill="url(#ptm)"/>
<rect x="184.85" y="526.64" width="6.05" height="3.67" fill="url(#ptr)"/>
<rect x="190.90" y="526.64" width="36.30" height="3.67" fill="url(#ptk)"/>
<rect x="227.20" y="526.64" width="145.20" height="3.67" fill="url(#ptr)"/>
<rect x="372.40" y="526.64" width="40.30" height="3.67" fill="url(#pb1)"/>
<rect x="112.25" y="529.71" width="6.05" height="3.67" fill="url(#ptm)"/>
<rect x="118.30" y="529.71" width="12.10" height="3.67" fill="#f9d8dc"/>
<rect x="130.40" y="529.71" width="24.20" height="3.67" fill="url(#ptk)"/>
<rect x="154.60" y="529.71" width="30.25" height="3.67" fill="url(#ptr)"/>
<rect x="184.85" y="529.71" width="42.35" height="3.67" fill="url(#ptk)"/>
<rect x="227.20" y="529.71" width="143.70" height="3.67" fill="url(#ptr)"/>
<rect x="370.90" y="529.71" width="41.80" height="3.67" fill="url(#pb3)"/>
<rect x="112.25" y="532.78" width="42.35" height="3.67" fill="#fdf4f5"/>
<rect x="154.60" y="532.78" width="54.45" height="3.67" fill="url(#ptk)"/>
<rect x="209.05" y="532.78" width="48.40" height="3.67" fill="url(#ptr)"/>
<rect x="257.45" y="532.78" width="24.20" height="3.67" fill="#ffffff"/>
<rect x="281.65" y="532.78" width="87.65" height="3.67" fill="url(#ptm)"/>
<rect x="369.30" y="532.78" width="43.40" height="3.67" fill="#e6e6f4"/>
<rect x="112.25" y="535.85" width="12.10" height="3.67" fill="#fdf4f5"/>
<rect x="124.35" y="535.85" width="6.05" height="3.67" fill="#e6e6f4"/>
<rect x="130.40" y="535.85" width="24.20" height="3.67" fill="#fdf4f5"/>
<rect x="154.60" y="535.85" width="36.30" height="3.67" fill="url(#ptk)"/>
<rect x="190.90" y="535.85" width="36.30" height="3.67" fill="#ffffff"/>
<rect x="227.20" y="535.85" width="140.60" height="3.67" fill="url(#ptr)"/>
<rect x="367.80" y="535.85" width="44.90" height="3.67" fill="url(#pb2)"/>
<rect x="112.25" y="538.92" width="36.30" height="3.67" fill="#fdf4f5"/>
<rect x="148.55" y="538.92" width="24.20" height="3.67" fill="#ffffff"/>
<rect x="172.75" y="538.92" width="193.55" height="3.67" fill="url(#ptr)"/>
<rect x="366.30" y="538.92" width="46.40" height="3.67" fill="url(#pb4)"/>
<rect x="112.25" y="541.99" width="36.30" height="3.67" fill="#fdf4f5"/>
<rect x="148.55" y="541.99" width="24.20" height="3.67" fill="#ffffff"/>
<rect x="172.75" y="541.99" width="6.05" height="3.67" fill="url(#ptk)"/>
<rect x="178.80" y="541.99" width="24.20" height="3.67" fill="#ffffff"/>
<rect x="203.00" y="541.99" width="60.50" height="3.67" fill="url(#ptr)"/>
<rect x="263.50" y="541.99" width="12.10" height="3.67" fill="url(#ptk)"/>
<rect x="275.60" y="541.99" width="89.20" height="3.67" fill="url(#ptr)"/>
<rect x="364.80" y="541.99" width="47.90" height="3.67" fill="url(#pb1)"/>
<rect x="112.25" y="545.06" width="12.10" height="3.67" fill="#e6e6f4"/>
<rect x="124.35" y="545.06" width="24.20" height="3.67" fill="#fdf4f5"/>
<rect x="148.55" y="545.06" width="24.20" height="3.67" fill="#ffffff"/>
<rect x="172.75" y="545.06" width="114.95" height="3.67" fill="url(#ptr)"/>
<rect x="287.70" y="545.06" width="18.15" height="3.67" fill="url(#ptk)"/>
<rect x="305.85" y="545.06" width="57.65" height="3.67" fill="url(#ptr)"/>
<rect x="363.50" y="545.06" width="49.20" height="3.67" fill="url(#pb3)"/>
<rect x="112.25" y="548.13" width="42.35" height="3.67" fill="#fdf4f5"/>
<rect x="154.60" y="548.13" width="30.25" height="3.67" fill="url(#ptk)"/>
<rect x="184.85" y="548.13" width="177.25" height="3.67" fill="url(#ptr)"/>
<rect x="362.10" y="548.13" width="50.60" height="3.67" fill="url(#pb0)"/>
<rect x="22.2" y="449.4" width="9.6" height="102.3" fill="#7b63b5"/>
<rect x="32.4" y="449.90" width="10.4" height="3.12" fill="#80cfc2"/>
<rect x="32.4" y="452.97" width="10.4" height="3.12" fill="#8c1248"/>
<rect x="32.4" y="456.04" width="10.4" height="3.12" fill="#fae4ec"/>
<rect x="32.4" y="459.11" width="10.4" height="3.12" fill="#27968a"/>
<rect x="32.4" y="462.18" width="10.4" height="3.12" fill="#fae4ec"/>
<rect x="32.4" y="465.25" width="10.4" height="3.12" fill="#c8167c"/>
<rect x="32.4" y="468.32" width="10.4" height="3.12" fill="#80cfc2"/>
<rect x="32.4" y="471.39" width="10.4" height="3.12" fill="#fae4ec"/>
<rect x="32.4" y="474.46" width="10.4" height="3.12" fill="#f0bcd4"/>
<rect x="32.4" y="477.53" width="10.4" height="3.12" fill="#fae4ec"/>
<rect x="32.4" y="480.60" width="10.4" height="3.12" fill="#fae4ec"/>
<rect x="32.4" y="483.67" width="10.4" height="3.12" fill="#c8167c"/>
<rect x="32.4" y="486.74" width="10.4" height="3.12" fill="#fae4ec"/>
<rect x="32.4" y="489.81" width="10.4" height="3.12" fill="#d8eeea"/>
<rect x="32.4" y="492.88" width="10.4" height="3.12" fill="#d8eeea"/>
<rect x="32.4" y="495.95" width="10.4" height="3.12" fill="#d8eeea"/>
<rect x="32.4" y="499.02" width="10.4" height="3.12" fill="#27968a"/>
<rect x="32.4" y="502.08" width="10.4" height="3.12" fill="#c8167c"/>
<rect x="32.4" y="505.15" width="10.4" height="3.12" fill="#fae4ec"/>
<rect x="32.4" y="508.22" width="10.4" height="3.12" fill="#fae4ec"/>
<rect x="32.4" y="511.29" width="10.4" height="3.12" fill="#8c1248"/>
<rect x="32.4" y="514.36" width="10.4" height="3.12" fill="#d8eeea"/>
<rect x="32.4" y="517.43" width="10.4" height="3.12" fill="#80cfc2"/>
<rect x="32.4" y="520.50" width="10.4" height="3.12" fill="#80cfc2"/>
<rect x="32.4" y="523.57" width="10.4" height="3.12" fill="#f0bcd4"/>
<rect x="32.4" y="526.64" width="10.4" height="3.12" fill="#80cfc2"/>
<rect x="32.4" y="529.71" width="10.4" height="3.12" fill="#d8eeea"/>
<rect x="32.4" y="532.78" width="10.4" height="3.12" fill="#0e5e50"/>
<rect x="32.4" y="535.85" width="10.4" height="3.12" fill="#fae4ec"/>
<rect x="32.4" y="538.92" width="10.4" height="3.12" fill="#c8167c"/>
<rect x="32.4" y="541.99" width="10.4" height="3.12" fill="#c8167c"/>
<rect x="32.4" y="545.06" width="10.4" height="3.12" fill="#fae4ec"/>
<rect x="32.4" y="548.13" width="10.4" height="3.12" fill="#c8167c"/>
<rect x="44.9" y="449.4" width="367.8" height="102.3" fill="none" stroke="#3a3a3a" stroke-width="1.1"/>
<text x="63.5" y="500.5" font-size="10.4" fill="#222" textLength="41" lengthAdjust="spacingAndGlyphs">Typical 1</text>
<rect x="112.25" y="554.80" width="96.80" height="3.70" fill="#ffffff"/>
<rect x="209.05" y="554.80" width="151.25" height="3.70" fill="url(#ptr)"/>
<rect x="360.30" y="554.80" width="42.35" height="3.70" fill="url(#ptk)"/>
<rect x="402.65" y="554.80" width="10.05" height="3.70" fill="#fdf4f5"/>
<rect x="124.35" y="557.90" width="42.35" height="3.70" fill="#fdf4f5"/>
<rect x="166.70" y="557.90" width="12.10" height="3.70" fill="url(#ptk)"/>
<rect x="178.80" y="557.90" width="18.15" height="3.70" fill="url(#ptn)"/>
<rect x="196.95" y="557.90" width="6.05" height="3.70" fill="url(#ptk)"/>
<rect x="203.00" y="557.90" width="6.05" height="3.70" fill="url(#ptm)"/>
<rect x="209.05" y="557.90" width="54.45" height="3.70" fill="url(#ptr)"/>
<rect x="263.50" y="557.90" width="6.05" height="3.70" fill="url(#ptk)"/>
<rect x="269.55" y="557.90" width="140.05" height="3.70" fill="url(#ptr)"/>
<rect x="409.60" y="557.90" width="3.10" height="3.70" fill="url(#pb3)"/>
<rect x="130.40" y="560.99" width="24.20" height="3.70" fill="#e6e6f4"/>
<rect x="154.60" y="560.99" width="24.20" height="3.70" fill="#fdf4f5"/>
<rect x="178.80" y="560.99" width="18.15" height="3.70" fill="url(#ptn)"/>
<rect x="196.95" y="560.99" width="6.05" height="3.70" fill="url(#ptk)"/>
<rect x="203.00" y="560.99" width="6.05" height="3.70" fill="url(#ptk)"/>
<rect x="209.05" y="560.99" width="12.10" height="3.70" fill="#fdf4f5"/>
<rect x="221.15" y="560.99" width="48.40" height="3.70" fill="#ffffff"/>
<rect x="269.55" y="560.99" width="24.20" height="3.70" fill="url(#ptk)"/>
<rect x="293.75" y="560.99" width="113.25" height="3.70" fill="url(#ptr)"/>
<rect x="407.00" y="560.99" width="5.70" height="3.70" fill="url(#pb0)"/>
<rect x="112.25" y="564.09" width="48.40" height="3.70" fill="#fdf4f5"/>
<rect x="160.65" y="564.09" width="42.35" height="3.70" fill="url(#ptk)"/>
<rect x="203.00" y="564.09" width="12.10" height="3.70" fill="url(#ptk)"/>
<rect x="215.10" y="564.09" width="12.10" height="3.70" fill="#fdf4f5"/>
<rect x="227.20" y="564.09" width="66.55" height="3.70" fill="url(#ptk)"/>
<rect x="293.75" y="564.09" width="106.25" height="3.70" fill="url(#ptr)"/>
<rect x="400.00" y="564.09" width="12.70" height="3.70" fill="url(#pb2)"/>
<rect x="112.25" y="567.19" width="48.40" height="3.70" fill="#fdf4f5"/>
<rect x="160.65" y="567.19" width="18.15" height="3.70" fill="url(#ptk)"/>
<rect x="178.80" y="567.19" width="24.20" height="3.70" fill="url(#ptb)"/>
<rect x="203.00" y="567.19" width="12.10" height="3.70" fill="url(#ptm)"/>
<rect x="215.10" y="567.19" width="24.20" height="3.70" fill="url(#ptr)"/>
<rect x="239.30" y="567.19" width="36.30" height="3.70" fill="url(#ptk)"/>
<rect x="275.60" y="567.19" width="122.40" height="3.70" fill="url(#ptr)"/>
<rect x="398.00" y="567.19" width="14.70" height="3.70" fill="#e6e6f4"/>
<rect x="112.25" y="570.29" width="78.65" height="3.70" fill="#fdf4f5"/>
<rect x="190.90" y="570.29" width="12.10" height="3.70" fill="url(#ptk)"/>
<rect x="203.00" y="570.29" width="193.50" height="3.70" fill="url(#ptr)"/>
<rect x="396.50" y="570.29" width="16.20" height="3.70" fill="#e6e6f4"/>
<rect x="112.25" y="573.38" width="78.65" height="3.70" fill="#ffffff"/>
<rect x="190.90" y="573.38" width="6.05" height="3.70" fill="#fdf4f5"/>
<rect x="196.95" y="573.38" width="6.05" height="3.70" fill="url(#ptm)"/>
<rect x="203.00" y="573.38" width="24.20" height="3.70" fill="#ffffff"/>
<rect x="227.20" y="573.38" width="12.10" height="3.70" fill="url(#ptk)"/>
<rect x="239.30" y="573.38" width="157.20" height="3.70" fill="url(#ptr)"/>
<rect x="396.50" y="573.38" width="16.20" height="3.70" fill="#e6e6f4"/>
<rect x="112.25" y="576.48" width="54.45" height="3.70" fill="#e6e6f4"/>
<rect x="166.70" y="576.48" width="6.05" height="3.70" fill="url(#ptk)"/>
<rect x="172.75" y="576.48" width="36.30" height="3.70" fill="#e6e6f4"/>
<rect x="209.05" y="576.48" width="30.25" height="3.70" fill="#fdf4f5"/>
<rect x="239.30" y="576.48" width="60.50" height="3.70" fill="#ffffff"/>
<rect x="299.80" y="576.48" width="98.20" height="3.70" fill="url(#ptr)"/>
<rect x="398.00" y="576.48" width="14.70" height="3.70" fill="url(#pb0)"/>
<rect x="112.25" y="579.58" width="48.40" height="3.70" fill="#fdf4f5"/>
<rect x="160.65" y="579.58" width="18.15" height="3.70" fill="url(#ptk)"/>
<rect x="178.80" y="579.58" width="24.20" height="3.70" fill="#fdf4f5"/>
<rect x="203.00" y="579.58" width="54.45" height="3.70" fill="#fdf4f5"/>
<rect x="257.45" y="579.58" width="30.25" height="3.70" fill="url(#ptk)"/>
<rect x="287.70" y="579.58" width="110.30" height="3.70" fill="url(#ptr)"/>
<rect x="398.00" y="579.58" width="14.70" height="3.70" fill="#e6e6f4"/>
<rect x="112.25" y="582.67" width="54.45" height="3.70" fill="#fdf4f5"/>
<rect x="166.70" y="582.67" width="12.10" height="3.70" fill="url(#ptk)"/>
<rect x="178.80" y="582.67" width="24.20" height="3.70" fill="#fdf4f5"/>
<rect x="203.00" y="582.67" width="36.30" height="3.70" fill="url(#ptk)"/>
<rect x="239.30" y="582.67" width="18.15" height="3.70" fill="url(#ptr)"/>
<rect x="257.45" y="582.67" width="6.05" height="3.70" fill="#ffffff"/>
<rect x="263.50" y="582.67" width="134.50" height="3.70" fill="url(#ptr)"/>
<rect x="398.00" y="582.67" width="14.70" height="3.70" fill="url(#pb4)"/>
<rect x="112.25" y="585.77" width="42.35" height="3.70" fill="#fdf4f5"/>
<rect x="154.60" y="585.77" width="60.50" height="3.70" fill="url(#ptb)"/>
<rect x="215.10" y="585.77" width="24.20" height="3.70" fill="url(#ptk)"/>
<rect x="239.30" y="585.77" width="157.20" height="3.70" fill="url(#ptr)"/>
<rect x="396.50" y="585.77" width="16.20" height="3.70" fill="url(#pb1)"/>
<rect x="112.25" y="588.87" width="42.35" height="3.70" fill="#fdf4f5"/>
<rect x="154.60" y="588.87" width="36.30" height="3.70" fill="url(#ptb)"/>
<rect x="190.90" y="588.87" width="12.10" height="3.70" fill="url(#ptk)"/>
<rect x="203.00" y="588.87" width="24.20" height="3.70" fill="url(#ptm)"/>
<rect x="227.20" y="588.87" width="6.05" height="3.70" fill="#ffffff"/>
<rect x="233.25" y="588.87" width="18.15" height="3.70" fill="url(#ptk)"/>
<rect x="251.40" y="588.87" width="145.10" height="3.70" fill="url(#ptr)"/>
<rect x="396.50" y="588.87" width="16.20" height="3.70" fill="url(#pb3)"/>
<rect x="112.25" y="591.97" width="42.35" height="3.70" fill="#fdf4f5"/>
<rect x="154.60" y="591.97" width="24.20" height="3.70" fill="url(#ptb)"/>
<rect x="178.80" y="591.97" width="24.20" height="3.70" fill="url(#ptk)"/>
<rect x="203.00" y="591.97" width="24.20" height="3.70" fill="url(#ptm)"/>
<rect x="227.20" y="591.97" width="18.15" height="3.70" fill="url(#ptk)"/>
<rect x="245.35" y="591.97" width="24.20" height="3.70" fill="url(#ptr)"/>
<rect x="269.55" y="591.97" width="24.20" height="3.70" fill="url(#ptb)"/>
<rect x="293.75" y="591.97" width="99.75" height="3.70" fill="url(#ptr)"/>
<rect x="393.50" y="591.97" width="19.20" height="3.70" fill="url(#pb0)"/>
<rect x="130.40" y="595.06" width="24.20" height="3.70" fill="#e6e6f4"/>
<rect x="154.60" y="595.06" width="12.10" height="3.70" fill="url(#ptb)"/>
<rect x="166.70" y="595.06" width="24.20" height="3.70" fill="#fdf4f5"/>
<rect x="190.90" y="595.06" width="36.30" height="3.70" fill="url(#ptk)"/>
<rect x="227.20" y="595.06" width="159.80" height="3.70" fill="url(#ptr)"/>
<rect x="387.00" y="595.06" width="25.70" height="3.70" fill="url(#pb2)"/>
<rect x="112.25" y="598.16" width="42.35" height="3.70" fill="#fdf4f5"/>
<rect x="154.60" y="598.16" width="24.20" height="3.70" fill="url(#ptb)"/>
<rect x="178.80" y="598.16" width="24.20" height="3.70" fill="url(#ptk)"/>
<rect x="203.00" y="598.16" width="12.10" height="3.70" fill="url(#ptm)"/>
<rect x="215.10" y="598.16" width="12.10" height="3.70" fill="#ffffff"/>
<rect x="227.20" y="598.16" width="24.20" height="3.70" fill="url(#ptk)"/>
<rect x="251.40" y="598.16" width="132.60" height="3.70" fill="url(#ptr)"/>
<rect x="384.00" y="598.16" width="28.70" height="3.70" fill="url(#pb4)"/>
<rect x="112.25" y="601.26" width="42.35" height="3.70" fill="#fdf4f5"/>
<rect x="154.60" y="601.26" width="24.20" height="3.70" fill="url(#ptb)"/>
<rect x="178.80" y="601.26" width="18.15" height="3.70" fill="url(#ptm)"/>
<rect x="196.95" y="601.26" width="12.10" height="3.70" fill="url(#ptk)"/>
<rect x="209.05" y="601.26" width="30.25" height="3.70" fill="url(#ptr)"/>
<rect x="239.30" y="601.26" width="18.15" height="3.70" fill="url(#ptk)"/>
<rect x="257.45" y="601.26" width="125.25" height="3.70" fill="url(#ptr)"/>
<rect x="382.70" y="601.26" width="30.00" height="3.70" fill="url(#pb1)"/>
<rect x="112.25" y="604.35" width="42.35" height="3.70" fill="#fdf4f5"/>
<rect x="154.60" y="604.35" width="30.25" height="3.70" fill="url(#ptk)"/>
<rect x="184.85" y="604.35" width="18.15" height="3.70" fill="url(#ptm)"/>
<rect x="203.00" y="604.35" width="6.05" height="3.70" fill="url(#ptk)"/>
<rect x="209.05" y="604.35" width="18.15" height="3.70" fill="url(#ptr)"/>
<rect x="227.20" y="604.35" width="6.05" height="3.70" fill="#ffffff"/>
<rect x="233.25" y="604.35" width="147.75" height="3.70" fill="url(#ptr)"/>
<rect x="381.00" y="604.35" width="31.70" height="3.70" fill="url(#pb3)"/>
<rect x="112.25" y="607.45" width="42.35" height="3.70" fill="#fdf4f5"/>
<rect x="154.60" y="607.45" width="54.45" height="3.70" fill="url(#ptk)"/>
<rect x="209.05" y="607.45" width="18.15" height="3.70" fill="url(#ptb)"/>
<rect x="227.20" y="607.45" width="6.05" height="3.70" fill="#ffffff"/>
<rect x="233.25" y="607.45" width="147.75" height="3.70" fill="url(#ptr)"/>
<rect x="381.00" y="607.45" width="31.70" height="3.70" fill="url(#pb0)"/>
<rect x="112.25" y="610.55" width="42.35" height="3.70" fill="#fdf4f5"/>
<rect x="154.60" y="610.55" width="48.40" height="3.70" fill="url(#ptb)"/>
<rect x="203.00" y="610.55" width="6.05" height="3.70" fill="url(#ptb)"/>
<rect x="209.05" y="610.55" width="18.15" height="3.70" fill="url(#ptk)"/>
<rect x="227.20" y="610.55" width="153.80" height="3.70" fill="url(#ptr)"/>
<rect x="381.00" y="610.55" width="31.70" height="3.70" fill="url(#pb2)"/>
<rect x="130.40" y="613.65" width="24.20" height="3.70" fill="#e6e6f4"/>
<rect x="154.60" y="613.65" width="48.40" height="3.70" fill="url(#ptb)"/>
<rect x="203.00" y="613.65" width="30.25" height="3.70" fill="url(#ptk)"/>
<rect x="233.25" y="613.65" width="146.35" height="3.70" fill="url(#ptr)"/>
<rect x="379.60" y="613.65" width="33.10" height="3.70" fill="url(#pb4)"/>
<rect x="112.25" y="616.74" width="42.35" height="3.70" fill="#fdf4f5"/>
<rect x="154.60" y="616.74" width="48.40" height="3.70" fill="url(#ptk)"/>
<rect x="203.00" y="616.74" width="30.25" height="3.70" fill="url(#ptb)"/>
<rect x="233.25" y="616.74" width="60.50" height="3.70" fill="url(#ptk)"/>
<rect x="293.75" y="616.74" width="6.05" height="3.70" fill="url(#ptr)"/>
<rect x="299.80" y="616.74" width="36.30" height="3.70" fill="url(#ptk)"/>
<rect x="336.10" y="616.74" width="43.50" height="3.70" fill="url(#ptr)"/>
<rect x="379.60" y="616.74" width="33.10" height="3.70" fill="url(#ptc)"/>
<rect x="112.25" y="619.84" width="54.45" height="3.70" fill="#fdf4f5"/>
<rect x="166.70" y="619.84" width="24.20" height="3.70" fill="url(#ptk)"/>
<rect x="190.90" y="619.84" width="12.10" height="3.70" fill="url(#ptr)"/>
<rect x="203.00" y="619.84" width="36.30" height="3.70" fill="url(#ptk)"/>
<rect x="239.30" y="619.84" width="140.30" height="3.70" fill="url(#ptr)"/>
<rect x="379.60" y="619.84" width="33.10" height="3.70" fill="url(#pb3)"/>
<rect x="112.25" y="622.94" width="42.35" height="3.70" fill="#fdf4f5"/>
<rect x="154.60" y="622.94" width="48.40" height="3.70" fill="url(#ptm)"/>
<rect x="203.00" y="622.94" width="66.55" height="3.70" fill="url(#ptk)"/>
<rect x="269.55" y="622.94" width="12.10" height="3.70" fill="#e6e6f4"/>
<rect x="281.65" y="622.94" width="97.95" height="3.70" fill="url(#ptr)"/>
<rect x="379.60" y="622.94" width="33.10" height="3.70" fill="url(#pb0)"/>
<rect x="112.25" y="626.03" width="48.40" height="3.70" fill="#fdf4f5"/>
<rect x="160.65" y="626.03" width="30.25" height="3.70" fill="url(#ptk)"/>
<rect x="190.90" y="626.03" width="18.15" height="3.70" fill="#fdf4f5"/>
<rect x="209.05" y="626.03" width="30.25" height="3.70" fill="url(#ptk)"/>
<rect x="239.30" y="626.03" width="18.15" height="3.70" fill="#fdf4f5"/>
<rect x="257.45" y="626.03" width="36.30" height="3.70" fill="url(#ptk)"/>
<rect x="293.75" y="626.03" width="82.75" height="3.70" fill="url(#ptr)"/>
<rect x="376.50" y="626.03" width="36.20" height="3.70" fill="url(#pb2)"/>
<rect x="112.25" y="629.13" width="48.40" height="3.70" fill="#fdf4f5"/>
<rect x="160.65" y="629.13" width="42.35" height="3.70" fill="url(#ptk)"/>
<rect x="203.00" y="629.13" width="24.20" height="3.70" fill="url(#ptk)"/>
<rect x="227.20" y="629.13" width="12.10" height="3.70" fill="#ffffff"/>
<rect x="239.30" y="629.13" width="24.20" height="3.70" fill="url(#ptk)"/>
<rect x="263.50" y="629.13" width="113.00" height="3.70" fill="url(#ptr)"/>
<rect x="376.50" y="629.13" width="36.20" height="3.70" fill="url(#ptc)"/>
<rect x="112.25" y="632.23" width="48.40" height="3.70" fill="#fdf4f5"/>
<rect x="160.65" y="632.23" width="42.35" height="3.70" fill="url(#ptk)"/>
<rect x="203.00" y="632.23" width="12.10" height="3.70" fill="#ffffff"/>
<rect x="215.10" y="632.23" width="36.30" height="3.70" fill="url(#ptk)"/>
<rect x="251.40" y="632.23" width="18.15" height="3.70" fill="#ffffff"/>
<rect x="269.55" y="632.23" width="18.15" height="3.70" fill="url(#ptk)"/>
<rect x="287.70" y="632.23" width="12.10" height="3.70" fill="url(#ptr)"/>
<rect x="299.80" y="632.23" width="76.70" height="3.70" fill="url(#ptk)"/>
<rect x="376.50" y="632.23" width="36.20" height="3.70" fill="url(#pb1)"/>
<rect x="124.35" y="635.33" width="36.30" height="3.70" fill="#e6e6f4"/>
<rect x="160.65" y="635.33" width="42.35" height="3.70" fill="url(#ptk)"/>
<rect x="203.00" y="635.33" width="24.20" height="3.70" fill="#ffffff"/>
<rect x="227.20" y="635.33" width="36.30" height="3.70" fill="url(#ptk)"/>
<rect x="263.50" y="635.33" width="6.05" height="3.70" fill="url(#ptb)"/>
<rect x="269.55" y="635.33" width="18.15" height="3.70" fill="url(#ptk)"/>
<rect x="287.70" y="635.33" width="87.30" height="3.70" fill="url(#ptr)"/>
<rect x="375.00" y="635.33" width="37.70" height="3.70" fill="url(#pb3)"/>
<rect x="112.25" y="638.42" width="48.40" height="3.70" fill="#fdf4f5"/>
<rect x="160.65" y="638.42" width="30.25" height="3.70" fill="url(#ptk)"/>
<rect x="190.90" y="638.42" width="30.25" height="3.70" fill="#ffffff"/>
<rect x="221.15" y="638.42" width="18.15" height="3.70" fill="url(#ptk)"/>
<rect x="239.30" y="638.42" width="12.10" height="3.70" fill="#ffffff"/>
<rect x="251.40" y="638.42" width="12.10" height="3.70" fill="url(#ptk)"/>
<rect x="263.50" y="638.42" width="24.20" height="3.70" fill="url(#ptb)"/>
<rect x="287.70" y="638.42" width="85.80" height="3.70" fill="url(#ptr)"/>
<rect x="373.50" y="638.42" width="39.20" height="3.70" fill="url(#pb0)"/>
<rect x="112.25" y="641.52" width="60.50" height="3.70" fill="#fdf4f5"/>
<rect x="172.75" y="641.52" width="18.15" height="3.70" fill="url(#ptb)"/>
<rect x="190.90" y="641.52" width="12.10" height="3.70" fill="url(#ptk)"/>
<rect x="203.00" y="641.52" width="24.20" height="3.70" fill="url(#ptr)"/>
<rect x="227.20" y="641.52" width="30.25" height="3.70" fill="url(#ptk)"/>
<rect x="257.45" y="641.52" width="108.55" height="3.70" fill="url(#ptr)"/>
<rect x="366.00" y="641.52" width="46.70" height="3.70" fill="#ffffff"/>
<rect x="112.25" y="644.62" width="30.25" height="3.70" fill="url(#ptk)"/>
<rect x="142.50" y="644.62" width="18.15" height="3.70" fill="url(#ptm)"/>
<rect x="160.65" y="644.62" width="66.55" height="3.70" fill="url(#ptk)"/>
<rect x="227.20" y="644.62" width="6.05" height="3.70" fill="#ffffff"/>
<rect x="233.25" y="644.62" width="24.20" height="3.70" fill="url(#ptk)"/>
<rect x="257.45" y="644.62" width="6.05" height="3.70" fill="#ffffff"/>
<rect x="263.50" y="644.62" width="24.20" height="3.70" fill="url(#ptk)"/>
<rect x="287.70" y="644.62" width="76.30" height="3.70" fill="url(#ptr)"/>
<rect x="364.00" y="644.62" width="48.70" height="3.70" fill="url(#pb4)"/>
<rect x="112.25" y="647.71" width="48.40" height="3.70" fill="#fdf4f5"/>
<rect x="160.65" y="647.71" width="48.40" height="3.70" fill="#e6e6f4"/>
<rect x="209.05" y="647.71" width="24.20" height="3.70" fill="url(#ptk)"/>
<rect x="233.25" y="647.71" width="129.45" height="3.70" fill="url(#ptr)"/>
<rect x="362.70" y="647.71" width="50.00" height="3.70" fill="url(#pb1)"/>
<rect x="112.25" y="650.81" width="48.40" height="3.70" fill="#fdf4f5"/>
<rect x="160.65" y="650.81" width="18.15" height="3.70" fill="url(#ptk)"/>
<rect x="178.80" y="650.81" width="18.15" height="3.70" fill="url(#ptb)"/>
<rect x="196.95" y="650.81" width="6.05" height="3.70" fill="url(#ptk)"/>
<rect x="203.00" y="650.81" width="18.15" height="3.70" fill="#e6e6f4"/>
<rect x="221.15" y="650.81" width="18.15" height="3.70" fill="url(#ptk)"/>
<rect x="239.30" y="650.81" width="18.15" height="3.70" fill="url(#ptr)"/>
<rect x="257.45" y="650.81" width="6.05" height="3.70" fill="url(#ptk)"/>
<rect x="263.50" y="650.81" width="97.50" height="3.70" fill="url(#ptr)"/>
<rect x="361.00" y="650.81" width="51.70" height="3.70" fill="url(#pb3)"/>
<rect x="112.25" y="653.91" width="60.50" height="3.70" fill="#fdf4f5"/>
<rect x="172.75" y="653.91" width="24.20" height="3.70" fill="url(#ptk)"/>
<rect x="196.95" y="653.91" width="12.10" height="3.70" fill="url(#ptb)"/>
<rect x="209.05" y="653.91" width="18.15" height="3.70" fill="url(#ptk)"/>
<rect x="227.20" y="653.91" width="42.35" height="3.70" fill="url(#ptr)"/>
<rect x="269.55" y="653.91" width="18.15" height="3.70" fill="url(#ptk)"/>
<rect x="287.70" y="653.91" width="70.30" height="3.70" fill="url(#ptr)"/>
<rect x="358.00" y="653.91" width="54.70" height="3.70" fill="url(#pb0)"/>
<rect x="112.25" y="657.01" width="48.40" height="3.70" fill="#fdf4f5"/>
<rect x="160.65" y="657.01" width="42.35" height="3.70" fill="url(#ptb)"/>
<rect x="203.00" y="657.01" width="36.30" height="3.70" fill="url(#ptk)"/>
<rect x="239.30" y="657.01" width="24.20" height="3.70" fill="url(#ptr)"/>
<rect x="263.50" y="657.01" width="6.05" height="3.70" fill="#ffffff"/>
<rect x="269.55" y="657.01" width="86.95" height="3.70" fill="url(#ptr)"/>
<rect x="356.50" y="657.01" width="56.20" height="3.70" fill="#ffffff"/>
<rect x="112.25" y="660.10" width="42.35" height="3.70" fill="#fdf4f5"/>
<rect x="154.60" y="660.10" width="48.40" height="3.70" fill="url(#ptb)"/>
<rect x="203.00" y="660.10" width="36.30" height="3.70" fill="url(#ptk)"/>
<rect x="239.30" y="660.10" width="12.10" height="3.70" fill="#ffffff"/>
<rect x="251.40" y="660.10" width="12.10" height="3.70" fill="url(#ptk)"/>
<rect x="263.50" y="660.10" width="91.50" height="3.70" fill="url(#ptr)"/>
<rect x="355.00" y="660.10" width="57.70" height="3.70" fill="url(#pb4)"/>
<rect x="22.2" y="554.3" width="9.6" height="109.4" fill="#7b63b5"/>
<rect x="32.4" y="554.80" width="10.4" height="3.15" fill="#fae4ec"/>
<rect x="32.4" y="557.90" width="10.4" height="3.15" fill="#c8167c"/>
<rect x="32.4" y="560.99" width="10.4" height="3.15" fill="#80cfc2"/>
<rect x="32.4" y="564.09" width="10.4" height="3.15" fill="#80cfc2"/>
<rect x="32.4" y="567.19" width="10.4" height="3.15" fill="#d8eeea"/>
<rect x="32.4" y="570.29" width="10.4" height="3.15" fill="#fae4ec"/>
<rect x="32.4" y="573.38" width="10.4" height="3.15" fill="#d8eeea"/>
<rect x="32.4" y="576.48" width="10.4" height="3.15" fill="#27968a"/>
<rect x="32.4" y="579.58" width="10.4" height="3.15" fill="#27968a"/>
<rect x="32.4" y="582.67" width="10.4" height="3.15" fill="#8c1248"/>
<rect x="32.4" y="585.77" width="10.4" height="3.15" fill="#8c1248"/>
<rect x="32.4" y="588.87" width="10.4" height="3.15" fill="#d8eeea"/>
<rect x="32.4" y="591.97" width="10.4" height="3.15" fill="#d8eeea"/>
<rect x="32.4" y="595.06" width="10.4" height="3.15" fill="#fae4ec"/>
<rect x="32.4" y="598.16" width="10.4" height="3.15" fill="#d8eeea"/>
<rect x="32.4" y="601.26" width="10.4" height="3.15" fill="#8c1248"/>
<rect x="32.4" y="604.35" width="10.4" height="3.15" fill="#f0bcd4"/>
<rect x="32.4" y="607.45" width="10.4" height="3.15" fill="#fae4ec"/>
<rect x="32.4" y="610.55" width="10.4" height="3.15" fill="#f0bcd4"/>
<rect x="32.4" y="613.65" width="10.4" height="3.15" fill="#c8167c"/>
<rect x="32.4" y="616.74" width="10.4" height="3.15" fill="#fae4ec"/>
<rect x="32.4" y="619.84" width="10.4" height="3.15" fill="#fae4ec"/>
<rect x="32.4" y="622.94" width="10.4" height="3.15" fill="#c8167c"/>
<rect x="32.4" y="626.03" width="10.4" height="3.15" fill="#fae4ec"/>
<rect x="32.4" y="629.13" width="10.4" height="3.15" fill="#d8eeea"/>
<rect x="32.4" y="632.23" width="10.4" height="3.15" fill="#80cfc2"/>
<rect x="32.4" y="635.33" width="10.4" height="3.15" fill="#80cfc2"/>
<rect x="32.4" y="638.42" width="10.4" height="3.15" fill="#8c1248"/>
<rect x="32.4" y="641.52" width="10.4" height="3.15" fill="#fae4ec"/>
<rect x="32.4" y="644.62" width="10.4" height="3.15" fill="#d8eeea"/>
<rect x="32.4" y="647.71" width="10.4" height="3.15" fill="#0e5e50"/>
<rect x="32.4" y="650.81" width="10.4" height="3.15" fill="#fae4ec"/>
<rect x="32.4" y="653.91" width="10.4" height="3.15" fill="#f0bcd4"/>
<rect x="32.4" y="657.01" width="10.4" height="3.15" fill="#d8eeea"/>
<rect x="32.4" y="660.10" width="10.4" height="3.15" fill="#d8eeea"/>
<rect x="44.9" y="554.3" width="367.8" height="109.4" fill="none" stroke="#3a3a3a" stroke-width="1.1"/>
<text x="63.5" y="610.0" font-size="10.4" fill="#222" textLength="41.5" lengthAdjust="spacingAndGlyphs">Typical 2</text>
<rect x="118.30" y="665.60" width="12.10" height="3.72" fill="#e6e6f4"/>
<rect x="130.40" y="665.60" width="36.30" height="3.72" fill="#ffffff"/>
<rect x="166.70" y="665.60" width="18.15" height="3.72" fill="url(#ptk)"/>
<rect x="184.85" y="665.60" width="18.15" height="3.72" fill="url(#ptc)"/>
<rect x="203.00" y="665.60" width="24.20" height="3.72" fill="url(#ptn)"/>
<rect x="227.20" y="665.60" width="12.10" height="3.72" fill="url(#ptk)"/>
<rect x="239.30" y="665.60" width="173.40" height="3.72" fill="url(#ptr)"/>
<rect x="112.25" y="668.72" width="18.15" height="3.72" fill="#fdf4f5"/>
<rect x="130.40" y="668.72" width="60.50" height="3.72" fill="#ffffff"/>
<rect x="190.90" y="668.72" width="12.10" height="3.72" fill="url(#ptk)"/>
<rect x="203.00" y="668.72" width="6.05" height="3.72" fill="url(#ptr)"/>
<rect x="209.05" y="668.72" width="42.35" height="3.72" fill="url(#ptk)"/>
<rect x="251.40" y="668.72" width="6.05" height="3.72" fill="url(#ptr)"/>
<rect x="257.45" y="668.72" width="6.05" height="3.72" fill="#ffffff"/>
<rect x="263.50" y="668.72" width="36.30" height="3.72" fill="url(#ptk)"/>
<rect x="299.80" y="668.72" width="78.65" height="3.72" fill="#f9d8dc"/>
<rect x="378.45" y="668.72" width="34.25" height="3.72" fill="#ffffff"/>
<rect x="118.30" y="671.84" width="36.30" height="3.72" fill="url(#ptk)"/>
<rect x="154.60" y="671.84" width="36.30" height="3.72" fill="#ffffff"/>
<rect x="190.90" y="671.84" width="12.10" height="3.72" fill="url(#ptk)"/>
<rect x="203.00" y="671.84" width="54.45" height="3.72" fill="url(#ptr)"/>
<rect x="257.45" y="671.84" width="6.05" height="3.72" fill="url(#ptk)"/>
<rect x="263.50" y="671.84" width="149.20" height="3.72" fill="url(#ptr)"/>
<rect x="118.30" y="674.96" width="36.30" height="3.72" fill="#fdf4f5"/>
<rect x="154.60" y="674.96" width="12.10" height="3.72" fill="url(#ptk)"/>
<rect x="166.70" y="674.96" width="18.15" height="3.72" fill="#ffffff"/>
<rect x="184.85" y="674.96" width="18.15" height="3.72" fill="url(#ptm)"/>
<rect x="203.00" y="674.96" width="12.10" height="3.72" fill="url(#ptb)"/>
<rect x="215.10" y="674.96" width="48.40" height="3.72" fill="url(#ptr)"/>
<rect x="263.50" y="674.96" width="6.05" height="3.72" fill="url(#ptn)"/>
<rect x="269.55" y="674.96" width="18.15" height="3.72" fill="url(#ptk)"/>
<rect x="287.70" y="674.96" width="125.00" height="3.72" fill="url(#ptr)"/>
<rect x="118.30" y="678.08" width="36.30" height="3.72" fill="#fdf4f5"/>
<rect x="154.60" y="678.08" width="12.10" height="3.72" fill="url(#ptk)"/>
<rect x="166.70" y="678.08" width="18.15" height="3.72" fill="#ffffff"/>
<rect x="184.85" y="678.08" width="6.05" height="3.72" fill="url(#ptb)"/>
<rect x="190.90" y="678.08" width="12.10" height="3.72" fill="url(#ptr)"/>
<rect x="203.00" y="678.08" width="18.15" height="3.72" fill="url(#ptn)"/>
<rect x="221.15" y="678.08" width="18.15" height="3.72" fill="url(#ptk)"/>
<rect x="239.30" y="678.08" width="24.20" height="3.72" fill="url(#ptr)"/>
<rect x="263.50" y="678.08" width="6.05" height="3.72" fill="url(#ptb)"/>
<rect x="269.55" y="678.08" width="108.90" height="3.72" fill="url(#ptr)"/>
<rect x="378.45" y="678.08" width="34.25" height="3.72" fill="url(#ptm)"/>
<rect x="118.30" y="681.20" width="36.30" height="3.72" fill="#fdf4f5"/>
<rect x="154.60" y="681.20" width="24.20" height="3.72" fill="url(#ptr)"/>
<rect x="178.80" y="681.20" width="6.05" height="3.72" fill="url(#ptb)"/>
<rect x="184.85" y="681.20" width="18.15" height="3.72" fill="url(#ptk)"/>
<rect x="203.00" y="681.20" width="54.45" height="3.72" fill="url(#ptr)"/>
<rect x="257.45" y="681.20" width="42.35" height="3.72" fill="url(#ptk)"/>
<rect x="299.80" y="681.20" width="112.90" height="3.72" fill="url(#ptr)"/>
<rect x="118.30" y="684.32" width="36.30" height="3.72" fill="#fdf4f5"/>
<rect x="154.60" y="684.32" width="24.20" height="3.72" fill="url(#ptm)"/>
<rect x="178.80" y="684.32" width="24.20" height="3.72" fill="url(#ptk)"/>
<rect x="203.00" y="684.32" width="157.30" height="3.72" fill="url(#ptr)"/>
<rect x="360.30" y="684.32" width="52.40" height="3.72" fill="url(#ptk)"/>
<rect x="118.30" y="687.44" width="36.30" height="3.72" fill="#fdf4f5"/>
<rect x="154.60" y="687.44" width="30.25" height="3.72" fill="url(#ptk)"/>
<rect x="184.85" y="687.44" width="18.15" height="3.72" fill="#ffffff"/>
<rect x="203.00" y="687.44" width="48.40" height="3.72" fill="url(#ptk)"/>
<rect x="251.40" y="687.44" width="6.05" height="3.72" fill="url(#ptr)"/>
<rect x="257.45" y="687.44" width="60.50" height="3.72" fill="url(#ptk)"/>
<rect x="317.95" y="687.44" width="42.35" height="3.72" fill="url(#ptr)"/>
<rect x="360.30" y="687.44" width="52.40" height="3.72" fill="url(#ptk)"/>
<rect x="118.30" y="690.56" width="36.30" height="3.72" fill="#fdf4f5"/>
<rect x="154.60" y="690.56" width="18.15" height="3.72" fill="url(#ptk)"/>
<rect x="172.75" y="690.56" width="6.05" height="3.72" fill="#ffffff"/>
<rect x="178.80" y="690.56" width="36.30" height="3.72" fill="url(#ptc)"/>
<rect x="215.10" y="690.56" width="42.35" height="3.72" fill="url(#ptr)"/>
<rect x="257.45" y="690.56" width="12.10" height="3.72" fill="url(#ptk)"/>
<rect x="269.55" y="690.56" width="143.15" height="3.72" fill="url(#ptr)"/>
<rect x="118.30" y="693.68" width="36.30" height="3.72" fill="#fdf4f5"/>
<rect x="154.60" y="693.68" width="54.45" height="3.72" fill="url(#ptk)"/>
<rect x="209.05" y="693.68" width="6.05" height="3.72" fill="url(#ptr)"/>
<rect x="215.10" y="693.68" width="12.10" height="3.72" fill="url(#ptk)"/>
<rect x="227.20" y="693.68" width="185.50" height="3.72" fill="url(#ptr)"/>
<rect x="22.2" y="665.1" width="9.6" height="32.2" fill="#7b63b5"/>
<rect x="32.4" y="665.60" width="10.4" height="3.17" fill="#d8eeea"/>
<rect x="32.4" y="668.72" width="10.4" height="3.17" fill="#27968a"/>
<rect x="32.4" y="671.84" width="10.4" height="3.17" fill="#80cfc2"/>
<rect x="32.4" y="674.96" width="10.4" height="3.17" fill="#d8eeea"/>
<rect x="32.4" y="678.08" width="10.4" height="3.17" fill="#f0bcd4"/>
<rect x="32.4" y="681.20" width="10.4" height="3.17" fill="#fae4ec"/>
<rect x="32.4" y="684.32" width="10.4" height="3.17" fill="#80cfc2"/>
<rect x="32.4" y="687.44" width="10.4" height="3.17" fill="#80cfc2"/>
<rect x="32.4" y="690.56" width="10.4" height="3.17" fill="#d8eeea"/>
<rect x="32.4" y="693.68" width="10.4" height="3.17" fill="#27968a"/>
<rect x="44.9" y="665.1" width="367.8" height="32.2" fill="none" stroke="#3a3a3a" stroke-width="1.1"/>
<text x="63.5" y="686.9" font-size="10.4" fill="#222" textLength="41.5" lengthAdjust="spacingAndGlyphs">Typical 3</text>
<rect x="118.30" y="699.80" width="12.10" height="3.63" fill="#e6e6f4"/>
<rect x="130.40" y="699.80" width="24.20" height="3.63" fill="#fdf4f5"/>
<rect x="154.60" y="699.80" width="6.05" height="3.63" fill="url(#ptm)"/>
<rect x="160.65" y="699.80" width="66.55" height="3.63" fill="url(#ptb)"/>
<rect x="227.20" y="699.80" width="6.05" height="3.63" fill="url(#ptk)"/>
<rect x="233.25" y="699.80" width="30.25" height="3.63" fill="url(#ptr)"/>
<rect x="263.50" y="699.80" width="18.15" height="3.63" fill="url(#ptb)"/>
<rect x="281.65" y="699.80" width="131.05" height="3.63" fill="url(#ptr)"/>
<rect x="118.30" y="702.82" width="36.30" height="3.63" fill="#ffffff"/>
<rect x="154.60" y="702.82" width="18.15" height="3.63" fill="url(#ptk)"/>
<rect x="172.75" y="702.82" width="30.25" height="3.63" fill="url(#ptc)"/>
<rect x="203.00" y="702.82" width="18.15" height="3.63" fill="url(#ptk)"/>
<rect x="221.15" y="702.82" width="36.30" height="3.63" fill="url(#ptr)"/>
<rect x="257.45" y="702.82" width="36.30" height="3.63" fill="url(#ptk)"/>
<rect x="293.75" y="702.82" width="66.55" height="3.63" fill="url(#ptr)"/>
<rect x="360.30" y="702.82" width="52.40" height="3.63" fill="url(#ptk)"/>
<rect x="124.35" y="705.85" width="6.05" height="3.63" fill="url(#ptk)"/>
<rect x="130.40" y="705.85" width="24.20" height="3.63" fill="#fdf4f5"/>
<rect x="154.60" y="705.85" width="24.20" height="3.63" fill="url(#ptr)"/>
<rect x="178.80" y="705.85" width="24.20" height="3.63" fill="url(#ptb)"/>
<rect x="203.00" y="705.85" width="6.05" height="3.63" fill="url(#ptk)"/>
<rect x="209.05" y="705.85" width="203.65" height="3.63" fill="url(#ptr)"/>
<rect x="124.35" y="708.88" width="6.05" height="3.63" fill="url(#ptd)"/>
<rect x="130.40" y="708.88" width="24.20" height="3.63" fill="#fdf4f5"/>
<rect x="154.60" y="708.88" width="258.10" height="3.63" fill="url(#ptr)"/>
<rect x="124.35" y="711.90" width="30.25" height="3.63" fill="#e6e6f4"/>
<rect x="154.60" y="711.90" width="48.40" height="3.63" fill="url(#ptb)"/>
<rect x="203.00" y="711.90" width="209.70" height="3.63" fill="url(#ptr)"/>
<rect x="124.35" y="714.92" width="30.25" height="3.63" fill="url(#ptk)"/>
<rect x="154.60" y="714.92" width="24.20" height="3.63" fill="url(#ptc)"/>
<rect x="178.80" y="714.92" width="24.20" height="3.63" fill="url(#ptk)"/>
<rect x="203.00" y="714.92" width="24.20" height="3.63" fill="url(#ptb)"/>
<rect x="227.20" y="714.92" width="6.05" height="3.63" fill="#fdf4f5"/>
<rect x="233.25" y="714.92" width="127.05" height="3.63" fill="url(#ptr)"/>
<rect x="360.30" y="714.92" width="52.40" height="3.63" fill="url(#ptk)"/>
<rect x="124.35" y="717.95" width="30.25" height="3.63" fill="#ffffff"/>
<rect x="154.60" y="717.95" width="48.40" height="3.63" fill="url(#ptk)"/>
<rect x="203.00" y="717.95" width="54.45" height="3.63" fill="url(#ptr)"/>
<rect x="257.45" y="717.95" width="12.10" height="3.63" fill="url(#ptk)"/>
<rect x="269.55" y="717.95" width="12.10" height="3.63" fill="url(#ptb)"/>
<rect x="281.65" y="717.95" width="12.10" height="3.63" fill="url(#ptk)"/>
<rect x="293.75" y="717.95" width="68.95" height="3.63" fill="url(#ptr)"/>
<rect x="362.70" y="717.95" width="50.00" height="3.63" fill="#ffffff"/>
<rect x="124.35" y="720.98" width="30.25" height="3.63" fill="#ffffff"/>
<rect x="154.60" y="720.98" width="54.45" height="3.63" fill="url(#ptk)"/>
<rect x="209.05" y="720.98" width="153.65" height="3.63" fill="url(#ptr)"/>
<rect x="362.70" y="720.98" width="50.00" height="3.63" fill="url(#pb3)"/>
<rect x="22.2" y="699.3" width="9.6" height="25.2" fill="#5ca22c"/>
<rect x="32.4" y="699.80" width="10.4" height="3.08" fill="#8c1248"/>
<rect x="32.4" y="702.82" width="10.4" height="3.08" fill="#27968a"/>
<rect x="32.4" y="705.85" width="10.4" height="3.08" fill="#80cfc2"/>
<rect x="32.4" y="708.88" width="10.4" height="3.08" fill="#f0bcd4"/>
<rect x="32.4" y="711.90" width="10.4" height="3.08" fill="#27968a"/>
<rect x="32.4" y="714.92" width="10.4" height="3.08" fill="#80cfc2"/>
<rect x="32.4" y="717.95" width="10.4" height="3.08" fill="#d8eeea"/>
<rect x="32.4" y="720.98" width="10.4" height="3.08" fill="#27968a"/>
<rect x="44.9" y="699.3" width="367.8" height="25.2" fill="none" stroke="#3a3a3a" stroke-width="1.1"/>
<rect x="124.35" y="726.80" width="30.25" height="3.60" fill="#ffffff"/>
<rect x="154.60" y="726.80" width="36.30" height="3.60" fill="url(#ptm)"/>
<rect x="190.90" y="726.80" width="12.10" height="3.60" fill="#ffffff"/>
<rect x="203.00" y="726.80" width="54.45" height="3.60" fill="url(#ptr)"/>
<rect x="257.45" y="726.80" width="6.05" height="3.60" fill="url(#ptk)"/>
<rect x="263.50" y="726.80" width="6.05" height="3.60" fill="url(#ptb)"/>
<rect x="269.55" y="726.80" width="12.10" height="3.60" fill="url(#ptr)"/>
<rect x="281.65" y="726.80" width="6.05" height="3.60" fill="url(#ptb)"/>
<rect x="287.70" y="726.80" width="125.00" height="3.60" fill="url(#ptr)"/>
<rect x="124.35" y="729.80" width="30.25" height="3.60" fill="#ffffff"/>
<rect x="154.60" y="729.80" width="6.05" height="3.60" fill="url(#ptk)"/>
<rect x="160.65" y="729.80" width="18.15" height="3.60" fill="url(#ptr)"/>
<rect x="178.80" y="729.80" width="24.20" height="3.60" fill="url(#ptc)"/>
<rect x="203.00" y="729.80" width="54.45" height="3.60" fill="url(#ptr)"/>
<rect x="257.45" y="729.80" width="24.20" height="3.60" fill="#fdf4f5"/>
<rect x="281.65" y="729.80" width="78.65" height="3.60" fill="url(#ptr)"/>
<rect x="360.30" y="729.80" width="24.20" height="3.60" fill="#ffffff"/>
<rect x="384.50" y="729.80" width="28.20" height="3.60" fill="url(#ptk)"/>
<rect x="124.35" y="732.80" width="30.25" height="3.60" fill="#ffffff"/>
<rect x="154.60" y="732.80" width="24.20" height="3.60" fill="url(#ptr)"/>
<rect x="178.80" y="732.80" width="24.20" height="3.60" fill="url(#ptk)"/>
<rect x="203.00" y="732.80" width="209.70" height="3.60" fill="url(#ptr)"/>
<rect x="22.2" y="726.3" width="9.6" height="10.0" fill="#e01280"/>
<rect x="32.4" y="726.80" width="10.4" height="3.05" fill="#80cfc2"/>
<rect x="32.4" y="729.80" width="10.4" height="3.05" fill="#d8eeea"/>
<rect x="32.4" y="732.80" width="10.4" height="3.05" fill="#8c1248"/>
<rect x="44.9" y="726.3" width="367.8" height="10.0" fill="none" stroke="#3a3a3a" stroke-width="1.1"/>
<rect x="118.30" y="738.60" width="36.30" height="3.52" fill="#ffffff"/>
<rect x="154.60" y="738.60" width="24.20" height="3.52" fill="url(#ptr)"/>
<rect x="178.80" y="738.60" width="12.10" height="3.52" fill="url(#ptk)"/>
<rect x="190.90" y="738.60" width="169.40" height="3.52" fill="url(#ptr)"/>
<rect x="360.30" y="738.60" width="52.40" height="3.52" fill="url(#ptk)"/>
<rect x="118.30" y="741.52" width="36.30" height="3.52" fill="#ffffff"/>
<rect x="154.60" y="741.52" width="36.30" height="3.52" fill="url(#ptk)"/>
<rect x="190.90" y="741.52" width="66.55" height="3.52" fill="url(#ptr)"/>
<rect x="257.45" y="741.52" width="30.25" height="3.52" fill="#ffffff"/>
<rect x="287.70" y="741.52" width="6.05" height="3.52" fill="url(#ptk)"/>
<rect x="293.75" y="741.52" width="66.55" height="3.52" fill="url(#ptr)"/>
<rect x="360.30" y="741.52" width="52.40" height="3.52" fill="url(#ptk)"/>
<rect x="118.30" y="744.43" width="36.30" height="3.52" fill="#ffffff"/>
<rect x="154.60" y="744.43" width="36.30" height="3.52" fill="url(#ptk)"/>
<rect x="190.90" y="744.43" width="169.40" height="3.52" fill="url(#ptr)"/>
<rect x="360.30" y="744.43" width="52.40" height="3.52" fill="url(#ptk)"/>
<rect x="118.30" y="747.35" width="42.35" height="3.52" fill="#ffffff"/>
<rect x="160.65" y="747.35" width="12.10" height="3.52" fill="url(#ptb)"/>
<rect x="172.75" y="747.35" width="54.45" height="3.52" fill="url(#ptr)"/>
<rect x="227.20" y="747.35" width="12.10" height="3.52" fill="url(#ptb)"/>
<rect x="239.30" y="747.35" width="18.15" height="3.52" fill="url(#ptr)"/>
<rect x="257.45" y="747.35" width="6.05" height="3.52" fill="url(#ptk)"/>
<rect x="263.50" y="747.35" width="120.50" height="3.52" fill="url(#ptr)"/>
<rect x="384.00" y="747.35" width="28.70" height="3.52" fill="url(#pb0)"/>
<rect x="118.30" y="750.27" width="36.30" height="3.52" fill="#ffffff"/>
<rect x="154.60" y="750.27" width="48.40" height="3.52" fill="url(#ptm)"/>
<rect x="203.00" y="750.27" width="169.00" height="3.52" fill="url(#ptr)"/>
<rect x="372.00" y="750.27" width="40.70" height="3.52" fill="url(#pb2)"/>
<rect x="118.30" y="753.18" width="36.30" height="3.52" fill="#ffffff"/>
<rect x="154.60" y="753.18" width="30.25" height="3.52" fill="url(#ptk)"/>
<rect x="184.85" y="753.18" width="78.65" height="3.52" fill="url(#ptr)"/>
<rect x="263.50" y="753.18" width="6.05" height="3.52" fill="url(#ptb)"/>
<rect x="269.55" y="753.18" width="18.15" height="3.52" fill="url(#ptr)"/>
<rect x="287.70" y="753.18" width="6.05" height="3.52" fill="url(#ptb)"/>
<rect x="293.75" y="753.18" width="68.95" height="3.52" fill="url(#ptr)"/>
<rect x="362.70" y="753.18" width="50.00" height="3.52" fill="#e6e6f4"/>
<rect x="22.2" y="738.1" width="9.6" height="18.5" fill="#6a6a1e"/>
<rect x="32.4" y="738.60" width="10.4" height="2.97" fill="#80cfc2"/>
<rect x="32.4" y="741.52" width="10.4" height="2.97" fill="#d8eeea"/>
<rect x="32.4" y="744.43" width="10.4" height="2.97" fill="#27968a"/>
<rect x="32.4" y="747.35" width="10.4" height="2.97" fill="#fae4ec"/>
<rect x="32.4" y="750.27" width="10.4" height="2.97" fill="#f0bcd4"/>
<rect x="32.4" y="753.18" width="10.4" height="2.97" fill="#d8eeea"/>
<rect x="44.9" y="738.1" width="367.8" height="18.5" fill="none" stroke="#3a3a3a" stroke-width="1.1"/>
<rect x="118.30" y="759.00" width="42.35" height="3.85" fill="#fdf4f5"/>
<rect x="160.65" y="759.00" width="42.35" height="3.85" fill="url(#ptk)"/>
<rect x="203.00" y="759.00" width="54.45" height="3.85" fill="#f9d8dc"/>
<rect x="257.45" y="759.00" width="42.35" height="3.85" fill="url(#ptk)"/>
<rect x="299.80" y="759.00" width="60.50" height="3.85" fill="#fdf4f5"/>
<rect x="360.30" y="759.00" width="52.40" height="3.85" fill="url(#ptk)"/>
<rect x="118.30" y="762.25" width="42.35" height="3.85" fill="url(#ptk)"/>
<rect x="160.65" y="762.25" width="42.35" height="3.85" fill="#f9d8dc"/>
<rect x="203.00" y="762.25" width="96.80" height="3.85" fill="url(#ptk)"/>
<rect x="299.80" y="762.25" width="60.50" height="3.85" fill="#f9d8dc"/>
<rect x="360.30" y="762.25" width="52.40" height="3.85" fill="#fdf4f5"/>
<rect x="22.2" y="758.5" width="9.6" height="7.5" fill="#e8b012"/>
<rect x="32.4" y="759.00" width="10.4" height="3.30" fill="#27968a"/>
<rect x="32.4" y="762.25" width="10.4" height="3.30" fill="#27968a"/>
<rect x="44.9" y="758.5" width="367.8" height="7.5" fill="none" stroke="#3a3a3a" stroke-width="1.1"/>
<rect x="118.30" y="767.90" width="36.30" height="3.59" fill="#ffffff"/>
<rect x="154.60" y="767.90" width="12.10" height="3.59" fill="url(#ptc)"/>
<rect x="166.70" y="767.90" width="90.75" height="3.59" fill="url(#ptr)"/>
<rect x="257.45" y="767.90" width="12.10" height="3.59" fill="url(#ptk)"/>
<rect x="269.55" y="767.90" width="143.15" height="3.59" fill="url(#ptr)"/>
<rect x="118.30" y="770.89" width="36.30" height="3.59" fill="#ffffff"/>
<rect x="154.60" y="770.89" width="36.30" height="3.59" fill="url(#ptk)"/>
<rect x="190.90" y="770.89" width="66.55" height="3.59" fill="url(#ptr)"/>
<rect x="257.45" y="770.89" width="12.10" height="3.59" fill="#ffffff"/>
<rect x="269.55" y="770.89" width="6.05" height="3.59" fill="url(#ptk)"/>
<rect x="275.60" y="770.89" width="84.70" height="3.59" fill="url(#ptr)"/>
<rect x="360.30" y="770.89" width="52.40" height="3.59" fill="url(#ptk)"/>
<rect x="118.30" y="773.87" width="36.30" height="3.59" fill="#e6e6f4"/>
<rect x="154.60" y="773.87" width="36.30" height="3.59" fill="url(#ptk)"/>
<rect x="190.90" y="773.87" width="6.05" height="3.59" fill="#ffffff"/>
<rect x="196.95" y="773.87" width="84.70" height="3.59" fill="url(#ptr)"/>
<rect x="281.65" y="773.87" width="12.10" height="3.59" fill="#ffffff"/>
<rect x="293.75" y="773.87" width="66.55" height="3.59" fill="url(#ptr)"/>
<rect x="360.30" y="773.87" width="6.05" height="3.59" fill="url(#ptk)"/>
<rect x="366.35" y="773.87" width="46.35" height="3.59" fill="#ffffff"/>
<rect x="118.30" y="776.86" width="12.10" height="3.59" fill="#e6e6f4"/>
<rect x="130.40" y="776.86" width="48.40" height="3.59" fill="url(#ptk)"/>
<rect x="178.80" y="776.86" width="181.50" height="3.59" fill="url(#ptr)"/>
<rect x="360.30" y="776.86" width="52.40" height="3.59" fill="url(#ptk)"/>
<rect x="118.30" y="779.84" width="36.30" height="3.59" fill="#ffffff"/>
<rect x="154.60" y="779.84" width="12.10" height="3.59" fill="url(#ptb)"/>
<rect x="166.70" y="779.84" width="12.10" height="3.59" fill="url(#ptr)"/>
<rect x="178.80" y="779.84" width="6.05" height="3.59" fill="url(#ptb)"/>
<rect x="184.85" y="779.84" width="72.60" height="3.59" fill="url(#ptr)"/>
<rect x="257.45" y="779.84" width="30.25" height="3.59" fill="url(#ptk)"/>
<rect x="287.70" y="779.84" width="72.60" height="3.59" fill="url(#ptr)"/>
<rect x="360.30" y="779.84" width="17.70" height="3.59" fill="url(#ptc)"/>
<rect x="378.00" y="779.84" width="34.70" height="3.59" fill="url(#pb2)"/>
<rect x="118.30" y="782.83" width="12.10" height="3.59" fill="#ffffff"/>
<rect x="130.40" y="782.83" width="24.20" height="3.59" fill="url(#ptk)"/>
<rect x="154.60" y="782.83" width="48.40" height="3.59" fill="url(#ptm)"/>
<rect x="203.00" y="782.83" width="6.05" height="3.59" fill="url(#ptb)"/>
<rect x="209.05" y="782.83" width="48.40" height="3.59" fill="url(#ptr)"/>
<rect x="257.45" y="782.83" width="30.25" height="3.59" fill="url(#ptk)"/>
<rect x="287.70" y="782.83" width="77.30" height="3.59" fill="url(#ptr)"/>
<rect x="365.00" y="782.83" width="47.70" height="3.59" fill="url(#pb4)"/>
<rect x="118.30" y="785.81" width="36.30" height="3.59" fill="#ffffff"/>
<rect x="154.60" y="785.81" width="18.15" height="3.59" fill="url(#ptk)"/>
<rect x="172.75" y="785.81" width="6.05" height="3.59" fill="url(#ptb)"/>
<rect x="178.80" y="785.81" width="183.20" height="3.59" fill="url(#ptr)"/>
<rect x="362.00" y="785.81" width="50.70" height="3.59" fill="url(#pb1)"/>
<rect x="22.2" y="767.4" width="9.6" height="21.9" fill="#a8511a"/>
<rect x="32.4" y="767.90" width="10.4" height="3.04" fill="#f0bcd4"/>
<rect x="32.4" y="770.89" width="10.4" height="3.04" fill="#f0bcd4"/>
<rect x="32.4" y="773.87" width="10.4" height="3.04" fill="#fae4ec"/>
<rect x="32.4" y="776.86" width="10.4" height="3.04" fill="#d8eeea"/>
<rect x="32.4" y="779.84" width="10.4" height="3.04" fill="#fae4ec"/>
<rect x="32.4" y="782.83" width="10.4" height="3.04" fill="#c8167c"/>
<rect x="32.4" y="785.81" width="10.4" height="3.04" fill="#fae4ec"/>
<rect x="44.9" y="767.4" width="367.8" height="21.9" fill="none" stroke="#3a3a3a" stroke-width="1.1"/>
<line x1="294.7" y1="450.0" x2="294.7" y2="551.1" stroke="#444" stroke-width="0.7" stroke-opacity="0.15"/>
<line x1="354.4" y1="450.0" x2="354.4" y2="551.1" stroke="#444" stroke-width="0.7" stroke-opacity="0.15"/>
<line x1="294.7" y1="554.9" x2="294.7" y2="663.1" stroke="#444" stroke-width="0.7" stroke-opacity="0.15"/>
<line x1="354.4" y1="554.9" x2="354.4" y2="663.1" stroke="#444" stroke-width="0.7" stroke-opacity="0.15"/>
<line x1="294.7" y1="665.7" x2="294.7" y2="696.7" stroke="#444" stroke-width="0.7" stroke-opacity="0.35"/>
<line x1="354.4" y1="665.7" x2="354.4" y2="696.7" stroke="#444" stroke-width="0.7" stroke-opacity="0.35"/>
<line x1="294.7" y1="699.9" x2="294.7" y2="723.9" stroke="#444" stroke-width="0.7" stroke-opacity="0.35"/>
<line x1="354.4" y1="699.9" x2="354.4" y2="723.9" stroke="#444" stroke-width="0.7" stroke-opacity="0.35"/>
<line x1="294.7" y1="726.9" x2="294.7" y2="735.7" stroke="#444" stroke-width="0.7" stroke-opacity="0.35"/>
<line x1="354.4" y1="726.9" x2="354.4" y2="735.7" stroke="#444" stroke-width="0.7" stroke-opacity="0.35"/>
<line x1="294.7" y1="738.7" x2="294.7" y2="756.0" stroke="#444" stroke-width="0.7" stroke-opacity="0.35"/>
<line x1="354.4" y1="738.7" x2="354.4" y2="756.0" stroke="#444" stroke-width="0.7" stroke-opacity="0.35"/>
<line x1="294.7" y1="759.1" x2="294.7" y2="765.4" stroke="#444" stroke-width="0.7" stroke-opacity="0.35"/>
<line x1="354.4" y1="759.1" x2="354.4" y2="765.4" stroke="#444" stroke-width="0.7" stroke-opacity="0.35"/>
<line x1="294.7" y1="768.0" x2="294.7" y2="788.7" stroke="#444" stroke-width="0.7" stroke-opacity="0.35"/>
<line x1="354.4" y1="768.0" x2="354.4" y2="788.7" stroke="#444" stroke-width="0.7" stroke-opacity="0.35"/>
<text x="420.3" y="456" font-size="11" fill="#222">Subgroup</text>
<rect x="419.6" y="462.2" width="7.8" height="7.8" fill="#7b63b5"/>
<text x="429.6" y="469.9" font-size="11" fill="#222">Typical</text>
<rect x="419.6" y="474.4" width="7.8" height="7.8" fill="#5ca22c"/>
<text x="429.6" y="482.1" font-size="11" fill="#222">rob(15;21)c</text>
<rect x="419.6" y="486.6" width="7.8" height="7.8" fill="#e01280"/>
<text x="429.6" y="494.3" font-size="11" fill="#222">r(21)c</text>
<rect x="419.6" y="498.8" width="7.8" height="7.8" fill="#6a6a1e"/>
<text x="429.6" y="506.5" font-size="11" fill="#222">Variant [rob-like]</text>
<rect x="419.6" y="511.0" width="7.8" height="7.8" fill="#e8b012"/>
<text x="429.6" y="518.7" font-size="11" fill="#222">Variant [DUX4]</text>
<rect x="419.6" y="523.2" width="7.8" height="7.8" fill="#a8511a"/>
<text x="429.6" y="530.9" font-size="11" fill="#222">Variant</text>
<text x="420.3" y="546.8" font-size="11" fill="#222">HighestCN</text>
<rect x="419.6" y="553.4" width="7.8" height="7.8" fill="#0e5e50"/>
<text x="430.6" y="561.1" font-size="11" fill="#222">3</text>
<rect x="419.6" y="565.7" width="7.8" height="7.8" fill="#27968a"/>
<text x="430.6" y="573.4" font-size="11" fill="#222">4</text>
<rect x="419.6" y="578.0" width="7.8" height="7.8" fill="#80cfc2"/>
<text x="430.6" y="585.7" font-size="11" fill="#222">5</text>
<rect x="419.6" y="590.3" width="7.8" height="7.8" fill="#d8eeea"/>
<text x="430.6" y="598.0" font-size="11" fill="#222">6</text>
<rect x="419.6" y="602.6" width="7.8" height="7.8" fill="#fae4ec"/>
<text x="430.6" y="610.3" font-size="11" fill="#222">7</text>
<rect x="419.6" y="614.9" width="7.8" height="7.8" fill="#f0bcd4"/>
<text x="430.6" y="622.6" font-size="11" fill="#222">8</text>
<rect x="419.6" y="627.2" width="7.8" height="7.8" fill="#c8167c"/>
<text x="430.6" y="634.9" font-size="11" fill="#222">9</text>
<rect x="419.6" y="639.5" width="7.8" height="7.8" fill="#8c1248"/>
<text x="430.6" y="647.2" font-size="11" fill="#222">&gt;9</text>
<text x="415.7" y="663.2" font-size="11" fill="#222">GISTIC</text>
<line x1="419.6" y1="672.8" x2="428.9" y2="672.8" stroke="#e05a70" stroke-width="0.9"/>
<text x="433.5" y="676.4" font-size="11" fill="#222">Amplification</text>
<line x1="419.6" y1="685" x2="428.9" y2="685" stroke="#6a8cc0" stroke-width="0.9"/>
<text x="433.5" y="688.6" font-size="11" fill="#222">Deletion</text>
<text x="417.3" y="705.8" font-size="11" fill="#222">Log2(ratio)</text>
<defs><linearGradient id="cb" x1="0" y1="0" x2="0" y2="1"><stop offset="0" stop-color="#7a0000"/><stop offset="0.25" stop-color="#e01010"/><stop offset="0.5" stop-color="#ffffff"/><stop offset="0.75" stop-color="#2a3aa8"/><stop offset="1" stop-color="#0c1458"/></linearGradient></defs>
<rect x="419.6" y="712.7" width="9.4" height="54.3" fill="url(#cb)"/>
<text x="431.9" y="718.8" font-size="11" fill="#222">4</text>
<line x1="419.6" y1="715" x2="421.6" y2="715" stroke="#fff" stroke-width="0.8"/><line x1="427" y1="715" x2="429" y2="715" stroke="#fff" stroke-width="0.8"/>
<text x="431.9" y="731.1" font-size="11" fill="#222">2</text>
<line x1="419.6" y1="727.3" x2="421.6" y2="727.3" stroke="#fff" stroke-width="0.8"/><line x1="427" y1="727.3" x2="429" y2="727.3" stroke="#fff" stroke-width="0.8"/>
<text x="431.9" y="743.6" font-size="11" fill="#222">0</text>
<text x="431.9" y="756.3" font-size="11" fill="#222">−2</text>
<line x1="419.6" y1="752.5" x2="421.6" y2="752.5" stroke="#fff" stroke-width="0.8"/><line x1="427" y1="752.5" x2="429" y2="752.5" stroke="#fff" stroke-width="0.8"/>
<text x="431.9" y="768.5" font-size="11" fill="#222">−4</text>
<line x1="419.6" y1="764.7" x2="421.6" y2="764.7" stroke="#fff" stroke-width="0.8"/><line x1="427" y1="764.7" x2="429" y2="764.7" stroke="#fff" stroke-width="0.8"/>
<rect x="0.55" y="0.55" width="518.9" height="797.9" fill="none" stroke="#1a1a1a" stroke-width="1.1"/>
</svg>
</body></html>
